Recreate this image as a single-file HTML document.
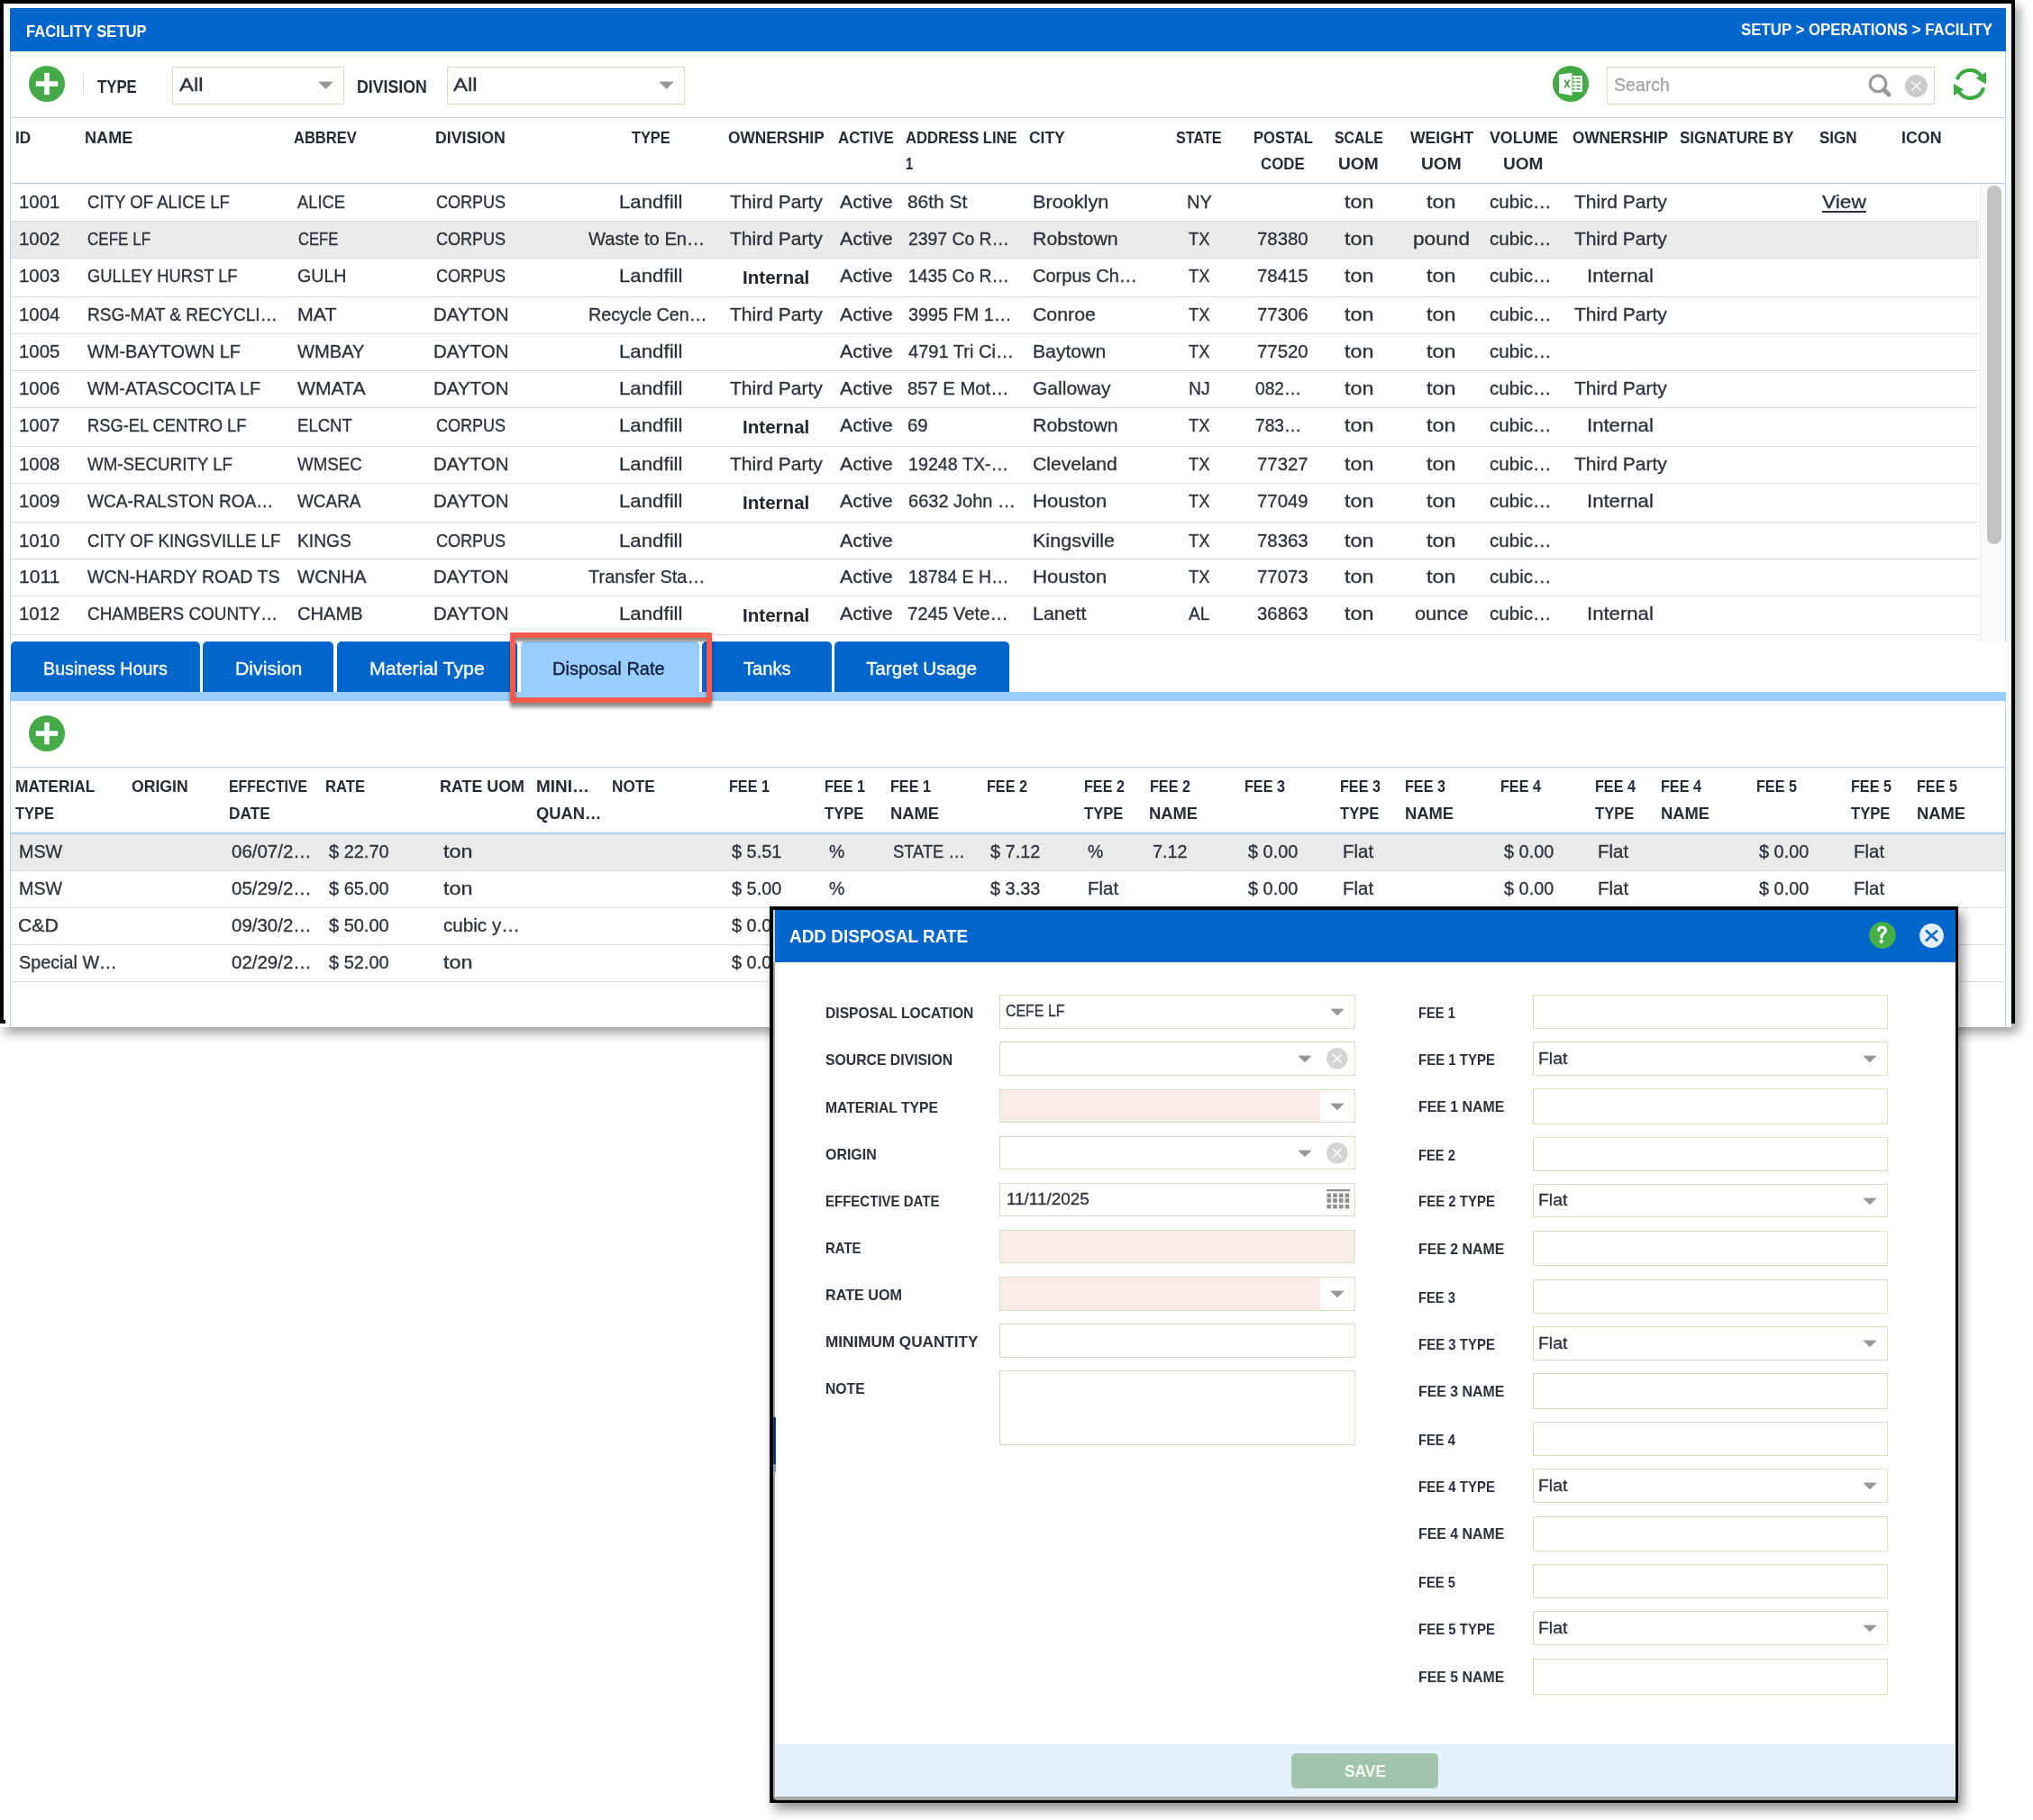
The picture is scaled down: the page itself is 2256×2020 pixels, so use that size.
<!DOCTYPE html>
<html><head><meta charset="utf-8"><style>
html,body{margin:0;padding:0;width:2256px;height:2020px;overflow:hidden;background:#fff;}
body{position:relative;font-family:"Liberation Sans", sans-serif;}
.t{position:absolute;white-space:pre;transform-origin:0 0;}
#root{position:absolute;left:0;top:0;width:2256px;height:2020px;will-change:transform;-webkit-font-smoothing:antialiased;}
</style></head><body><div id="root">
<div style="position:absolute;left:0px;top:0px;width:2232px;height:1140px;background:#fff;box-shadow:5px 6px 12px rgba(0,0,0,0.40);"></div>
<div style="position:absolute;left:2232px;top:0px;width:4px;height:1136px;background:#000;box-shadow:5px 6px 12px rgba(0,0,0,0.40);"></div>
<div style="position:absolute;left:0px;top:0px;width:2236px;height:4px;background:#000;"></div>
<div style="position:absolute;left:0px;top:0px;width:4px;height:1136px;background:#000;"></div>
<div style="position:absolute;left:0px;top:1132px;width:6px;height:4px;background:#000;"></div>
<div style="position:absolute;left:2232px;top:0px;width:4px;height:1136px;background:#000;"></div>
<div style="position:absolute;left:11px;top:9px;width:2215px;height:1131px;background:#fff;border-left:1px solid #b3cbe6;border-right:1px solid #b3cbe6;box-sizing:border-box;"></div>
<div style="position:absolute;left:11px;top:9px;width:2215px;height:48px;background:#0066cc;"></div>
<div class="t" style="left:28.50px;top:25.99px;font-size:18.8px;line-height:18.8px;font-weight:700;color:#fff;transform:scaleX(0.8856);">FACILITY SETUP</div>
<div class="t" style="left:1931.59px;top:23.96px;font-size:18.6px;line-height:18.6px;font-weight:700;color:#fff;transform:scaleX(0.9051);">SETUP &gt; OPERATIONS &gt; FACILITY</div>
<svg style="position:absolute;overflow:visible;left:32px;top:73px" width="40" height="40" viewBox="0 0 40 40"><circle cx="20" cy="20" r="20" fill="#44ab48"/><rect x="7.8" y="17.2" width="24.4" height="5.6" fill="#fff"/><rect x="17.2" y="7.8" width="5.6" height="24.4" fill="#fff"/></svg>
<div style="position:absolute;left:91.5px;top:82px;width:1.0px;height:24px;background:#dcdcdc;"></div>
<div class="t" style="left:107.99px;top:87.31px;font-size:19.6px;line-height:19.6px;font-weight:700;color:#262c33;transform:scaleX(0.8550);">TYPE</div>
<div style="position:absolute;left:191px;top:74px;width:191px;height:42px;border:1px solid #cfe3c3;box-sizing:border-box;background:#fff;"></div>
<div class="t" style="left:198.56px;top:84.29px;font-size:20.8px;line-height:20.8px;font-weight:400;color:#2b3138;transform:scaleX(1.1534);-webkit-text-stroke:0.3px #2b3138;">All</div>
<svg style="position:absolute;overflow:visible;left:353.5px;top:91.3px" width="15" height="7.7" viewBox="0 0 15 7.7"><path d="M0 0 L15 0 L7.5 7.7 Z" fill="#979797" stroke="#979797" stroke-width="0.8" stroke-linejoin="round"/></svg>
<div class="t" style="left:395.94px;top:87.31px;font-size:19.6px;line-height:19.6px;font-weight:700;color:#262c33;transform:scaleX(0.9041);">DIVISION</div>
<div style="position:absolute;left:496px;top:74px;width:264px;height:42px;border:1px solid #cfe3c3;box-sizing:border-box;background:#fff;"></div>
<div class="t" style="left:503.06px;top:84.29px;font-size:20.8px;line-height:20.8px;font-weight:400;color:#2b3138;transform:scaleX(1.1534);-webkit-text-stroke:0.3px #2b3138;">All</div>
<svg style="position:absolute;overflow:visible;left:731.5px;top:91.3px" width="15" height="7.7" viewBox="0 0 15 7.7"><path d="M0 0 L15 0 L7.5 7.7 Z" fill="#979797" stroke="#979797" stroke-width="0.8" stroke-linejoin="round"/></svg>
<svg style="position:absolute;overflow:visible;left:1723px;top:73px" width="40" height="40" viewBox="0 0 40 40"><circle cx="20" cy="20" r="20" fill="#43a945"/><path d="M7 9.8 L21.3 7.7 L21.6 33 L7.2 30.4 Z" fill="#fff"/><rect x="22.2" y="11" width="10.6" height="18" fill="#fff"/><g fill="#43a945"><rect x="22.2" y="13.1" width="2.4" height="1.6"/><rect x="26.3" y="13.1" width="4.4" height="1.6"/><rect x="22.2" y="17.2" width="2.4" height="1.6"/><rect x="26.3" y="17.2" width="4.4" height="1.6"/><rect x="22.2" y="21.2" width="2.4" height="1.6"/><rect x="26.3" y="21.2" width="4.4" height="1.6"/><rect x="22.2" y="25.1" width="2.4" height="1.6"/><rect x="26.3" y="25.1" width="4.4" height="1.6"/></g><path d="M13.1 15.6 L18.7 24.4 M18.7 15.6 L13.1 24.4" stroke="#3e8f43" stroke-width="1.7" fill="none"/></svg>
<div style="position:absolute;left:1783px;top:74px;width:364px;height:42px;border:1px solid #cfe3c3;box-sizing:border-box;background:#fff;"></div>
<div class="t" style="left:1790.83px;top:84.39px;font-size:20.8px;line-height:20.8px;font-weight:400;color:#a3a3a3;transform:scaleX(0.9388);-webkit-text-stroke:0.3px #a3a3a3;">Search</div>
<svg style="position:absolute;overflow:visible;left:2070px;top:80px" width="32" height="32" viewBox="0 0 32 32"><circle cx="14" cy="12.8" r="8.9" stroke="#9a9a9a" stroke-width="3.2" fill="none"/><path d="M20.5 19.5 L26 25" stroke="#9a9a9a" stroke-width="5" stroke-linecap="round"/></svg>
<svg style="position:absolute;overflow:visible;left:2113.6px;top:82.6px" width="24.8" height="24.8" viewBox="0 0 24.8 24.8"><circle cx="12.4" cy="12.4" r="12.4" fill="#cbcbcb"/><path d="M7.192 7.192 L17.608 17.608 M17.608 7.192 L7.192 17.608" stroke="#fff" stroke-width="1.4"/></svg>
<svg style="position:absolute;overflow:visible;left:2164px;top:72px" width="44" height="42" viewBox="0 0 44 42"><path d="M8.5 14.5 A15 15 0 0 1 33 10.5" stroke="#3fa944" stroke-width="4.2" fill="none" stroke-linecap="round"/><path d="M40 8 L40 21.6 L28.6 14.8 Z" fill="#3fa944"/><path d="M36.6 27 A15 15 0 0 1 11 31.5" stroke="#3fa944" stroke-width="4.2" fill="none" stroke-linecap="round"/><path d="M3.9 20.8 L3.9 34.2 L15 27.5 Z" fill="#3fa944"/></svg>
<div style="position:absolute;left:11px;top:130px;width:2215px;height:1px;background:#c3d7ec;"></div>
<div class="t" style="left:16.97px;top:144.16px;font-size:18.6px;line-height:18.6px;font-weight:700;color:#262c33;transform:scaleX(0.9236);">ID</div>
<div class="t" style="left:94.21px;top:144.16px;font-size:18.6px;line-height:18.6px;font-weight:700;color:#262c33;transform:scaleX(0.9730);">NAME</div>
<div class="t" style="left:326.31px;top:144.16px;font-size:18.6px;line-height:18.6px;font-weight:700;color:#262c33;transform:scaleX(0.8874);">ABBREV</div>
<div class="t" style="left:483.16px;top:144.16px;font-size:18.6px;line-height:18.6px;font-weight:700;color:#262c33;transform:scaleX(0.9516);">DIVISION</div>
<div class="t" style="left:701.16px;top:144.16px;font-size:18.6px;line-height:18.6px;font-weight:700;color:#262c33;transform:scaleX(0.8785);">TYPE</div>
<div class="t" style="left:808.16px;top:144.16px;font-size:18.6px;line-height:18.6px;font-weight:700;color:#262c33;transform:scaleX(0.9303);">OWNERSHIP</div>
<div class="t" style="left:930.16px;top:144.16px;font-size:18.6px;line-height:18.6px;font-weight:700;color:#262c33;transform:scaleX(0.9045);">ACTIVE</div>
<div class="t" style="left:1004.70px;top:144.16px;font-size:18.6px;line-height:18.6px;font-weight:700;color:#262c33;transform:scaleX(0.8934);">ADDRESS LINE</div>
<div class="t" style="left:1005.12px;top:173.16px;font-size:18.6px;line-height:18.6px;font-weight:700;color:#262c33;transform:scaleX(0.7902);">1</div>
<div class="t" style="left:1142.35px;top:144.16px;font-size:18.6px;line-height:18.6px;font-weight:700;color:#262c33;transform:scaleX(0.9366);">CITY</div>
<div class="t" style="left:1305.16px;top:144.16px;font-size:18.6px;line-height:18.6px;font-weight:700;color:#262c33;transform:scaleX(0.8709);">STATE</div>
<div class="t" style="left:1390.56px;top:144.16px;font-size:18.6px;line-height:18.6px;font-weight:700;color:#262c33;transform:scaleX(0.8898);">POSTAL</div>
<div class="t" style="left:1398.66px;top:173.16px;font-size:18.6px;line-height:18.6px;font-weight:700;color:#262c33;transform:scaleX(0.9058);">CODE</div>
<div class="t" style="left:1481.01px;top:144.16px;font-size:18.6px;line-height:18.6px;font-weight:700;color:#262c33;transform:scaleX(0.8563);">SCALE</div>
<div class="t" style="left:1485.26px;top:173.16px;font-size:18.6px;line-height:18.6px;font-weight:700;color:#262c33;transform:scaleX(1.0296);">UOM</div>
<div class="t" style="left:1564.51px;top:144.16px;font-size:18.6px;line-height:18.6px;font-weight:700;color:#262c33;transform:scaleX(0.9462);">WEIGHT</div>
<div class="t" style="left:1577.26px;top:173.16px;font-size:18.6px;line-height:18.6px;font-weight:700;color:#262c33;transform:scaleX(1.0296);">UOM</div>
<div class="t" style="left:1652.56px;top:144.16px;font-size:18.6px;line-height:18.6px;font-weight:700;color:#262c33;transform:scaleX(0.9563);">VOLUME</div>
<div class="t" style="left:1668.16px;top:173.16px;font-size:18.6px;line-height:18.6px;font-weight:700;color:#262c33;transform:scaleX(1.0250);">UOM</div>
<div class="t" style="left:1744.96px;top:144.16px;font-size:18.6px;line-height:18.6px;font-weight:700;color:#262c33;transform:scaleX(0.9250);">OWNERSHIP</div>
<div class="t" style="left:1864.48px;top:144.16px;font-size:18.6px;line-height:18.6px;font-weight:700;color:#262c33;transform:scaleX(0.9105);">SIGNATURE BY</div>
<div class="t" style="left:2019.38px;top:144.16px;font-size:18.6px;line-height:18.6px;font-weight:700;color:#262c33;transform:scaleX(0.9165);">SIGN</div>
<div class="t" style="left:2109.93px;top:144.16px;font-size:18.6px;line-height:18.6px;font-weight:700;color:#262c33;transform:scaleX(0.9611);">ICON</div>
<div style="position:absolute;left:11px;top:203px;width:2215px;height:1.4000000000000057px;background:#b0cbe5;"></div>
<div style="position:absolute;left:12px;top:245.3px;width:2184px;height:40.89999999999998px;background:#eaeaea;"></div>
<div style="position:absolute;left:12px;top:244.8px;width:2184px;height:1.0px;background:#dcdcdc;"></div>
<div style="position:absolute;left:12px;top:285.7px;width:2184px;height:1.0px;background:#dcdcdc;"></div>
<div style="position:absolute;left:12px;top:328.8px;width:2184px;height:1.0px;background:#dcdcdc;"></div>
<div style="position:absolute;left:12px;top:369.7px;width:2184px;height:1.0px;background:#dcdcdc;"></div>
<div style="position:absolute;left:12px;top:410.6px;width:2184px;height:1.0px;background:#dcdcdc;"></div>
<div style="position:absolute;left:12px;top:451.5px;width:2184px;height:1.0px;background:#dcdcdc;"></div>
<div style="position:absolute;left:12px;top:494.6px;width:2184px;height:1.0px;background:#dcdcdc;"></div>
<div style="position:absolute;left:12px;top:535.9px;width:2184px;height:1.0px;background:#dcdcdc;"></div>
<div style="position:absolute;left:12px;top:579.2px;width:2184px;height:1.0px;background:#dcdcdc;"></div>
<div style="position:absolute;left:12px;top:619.9px;width:2184px;height:1.0px;background:#dcdcdc;"></div>
<div style="position:absolute;left:12px;top:660.7px;width:2184px;height:1.0px;background:#dcdcdc;"></div>
<div style="position:absolute;left:12px;top:703.5px;width:2184px;height:1.0px;background:#dcdcdc;"></div>
<div style="position:absolute;left:2196.5px;top:204.5px;width:1.5px;height:507.5px;background:#e8e8e8;"></div>
<div style="position:absolute;left:2198px;top:204.5px;width:27px;height:507.5px;background:#fafafa;"></div>
<div style="position:absolute;left:2205px;top:206px;width:16px;height:398px;background:#c2c2c2;border-radius:8px;"></div>
<div class="t" style="left:21.38px;top:214.29px;font-size:20.8px;line-height:20.8px;font-weight:400;color:#2b3138;transform:scaleX(0.9807);-webkit-text-stroke:0.3px #2b3138;">1001</div>
<div class="t" style="left:97.28px;top:214.29px;font-size:20.8px;line-height:20.8px;font-weight:400;color:#2b3138;transform:scaleX(0.8947);-webkit-text-stroke:0.3px #2b3138;">CITY OF ALICE LF</div>
<div class="t" style="left:330.40px;top:214.29px;font-size:20.8px;line-height:20.8px;font-weight:400;color:#2b3138;transform:scaleX(0.8801);-webkit-text-stroke:0.3px #2b3138;">ALICE</div>
<div class="t" style="left:483.73px;top:214.29px;font-size:20.8px;line-height:20.8px;font-weight:400;color:#2b3138;transform:scaleX(0.8670);-webkit-text-stroke:0.3px #2b3138;">CORPUS</div>
<div class="t" style="left:687.26px;top:214.29px;font-size:20.8px;line-height:20.8px;font-weight:400;color:#2b3138;transform:scaleX(1.0695);-webkit-text-stroke:0.3px #2b3138;">Landfill</div>
<div class="t" style="left:810.15px;top:214.29px;font-size:20.8px;line-height:20.8px;font-weight:400;color:#2b3138;transform:scaleX(1.0117);-webkit-text-stroke:0.3px #2b3138;">Third Party</div>
<div class="t" style="left:932.07px;top:214.29px;font-size:20.8px;line-height:20.8px;font-weight:400;color:#2b3138;transform:scaleX(1.0355);-webkit-text-stroke:0.3px #2b3138;">Active</div>
<div class="t" style="left:1007.45px;top:214.29px;font-size:20.8px;line-height:20.8px;font-weight:400;color:#2b3138;transform:scaleX(1.0042);-webkit-text-stroke:0.3px #2b3138;">86th St</div>
<div class="t" style="left:1145.70px;top:214.29px;font-size:20.8px;line-height:20.8px;font-weight:400;color:#2b3138;transform:scaleX(1.0421);-webkit-text-stroke:0.3px #2b3138;">Brooklyn</div>
<div class="t" style="left:1316.50px;top:214.29px;font-size:20.8px;line-height:20.8px;font-weight:400;color:#2b3138;transform:scaleX(0.9689);-webkit-text-stroke:0.3px #2b3138;">NY</div>
<div class="t" style="left:1491.77px;top:214.29px;font-size:20.8px;line-height:20.8px;font-weight:400;color:#2b3138;transform:scaleX(1.1226);-webkit-text-stroke:0.3px #2b3138;">ton</div>
<div class="t" style="left:1583.27px;top:214.29px;font-size:20.8px;line-height:20.8px;font-weight:400;color:#2b3138;transform:scaleX(1.1226);-webkit-text-stroke:0.3px #2b3138;">ton</div>
<div class="t" style="left:1653.27px;top:214.29px;font-size:20.8px;line-height:20.8px;font-weight:400;color:#2b3138;transform:scaleX(0.9893);-webkit-text-stroke:0.3px #2b3138;">cubic…</div>
<div class="t" style="left:1746.55px;top:214.29px;font-size:20.8px;line-height:20.8px;font-weight:400;color:#2b3138;transform:scaleX(1.0117);-webkit-text-stroke:0.3px #2b3138;">Third Party</div>
<div class="t" style="left:2021.64px;top:214.29px;font-size:20.8px;line-height:20.8px;font-weight:400;color:#2b3138;transform:scaleX(1.0933);-webkit-text-stroke:0.3px #2b3138;text-decoration:underline;text-underline-offset:3px;">View</div>
<div class="t" style="left:21.38px;top:255.19px;font-size:20.8px;line-height:20.8px;font-weight:400;color:#2b3138;transform:scaleX(0.9807);-webkit-text-stroke:0.3px #2b3138;">1002</div>
<div class="t" style="left:97.38px;top:255.19px;font-size:20.8px;line-height:20.8px;font-weight:400;color:#2b3138;transform:scaleX(0.8193);-webkit-text-stroke:0.3px #2b3138;">CEFE LF</div>
<div class="t" style="left:330.50px;top:255.19px;font-size:20.8px;line-height:20.8px;font-weight:400;color:#2b3138;transform:scaleX(0.7979);-webkit-text-stroke:0.3px #2b3138;">CEFE</div>
<div class="t" style="left:483.73px;top:255.19px;font-size:20.8px;line-height:20.8px;font-weight:400;color:#2b3138;transform:scaleX(0.8670);-webkit-text-stroke:0.3px #2b3138;">CORPUS</div>
<div class="t" style="left:653.29px;top:255.19px;font-size:20.8px;line-height:20.8px;font-weight:400;color:#2b3138;transform:scaleX(0.9696);-webkit-text-stroke:0.3px #2b3138;">Waste to En…</div>
<div class="t" style="left:810.15px;top:255.19px;font-size:20.8px;line-height:20.8px;font-weight:400;color:#2b3138;transform:scaleX(1.0117);-webkit-text-stroke:0.3px #2b3138;">Third Party</div>
<div class="t" style="left:932.07px;top:255.19px;font-size:20.8px;line-height:20.8px;font-weight:400;color:#2b3138;transform:scaleX(1.0355);-webkit-text-stroke:0.3px #2b3138;">Active</div>
<div class="t" style="left:1007.54px;top:255.19px;font-size:20.8px;line-height:20.8px;font-weight:400;color:#2b3138;transform:scaleX(0.9305);-webkit-text-stroke:0.3px #2b3138;">2397 Co R…</div>
<div class="t" style="left:1145.72px;top:255.19px;font-size:20.8px;line-height:20.8px;font-weight:400;color:#2b3138;transform:scaleX(1.0238);-webkit-text-stroke:0.3px #2b3138;">Robstown</div>
<div class="t" style="left:1318.75px;top:255.19px;font-size:20.8px;line-height:20.8px;font-weight:400;color:#2b3138;transform:scaleX(0.8843);-webkit-text-stroke:0.3px #2b3138;">TX</div>
<div class="t" style="left:1394.64px;top:255.19px;font-size:20.8px;line-height:20.8px;font-weight:400;color:#2b3138;transform:scaleX(0.9805);-webkit-text-stroke:0.3px #2b3138;">78380</div>
<div class="t" style="left:1491.77px;top:255.19px;font-size:20.8px;line-height:20.8px;font-weight:400;color:#2b3138;transform:scaleX(1.1226);-webkit-text-stroke:0.3px #2b3138;">ton</div>
<div class="t" style="left:1567.97px;top:255.19px;font-size:20.8px;line-height:20.8px;font-weight:400;color:#2b3138;transform:scaleX(1.0903);-webkit-text-stroke:0.3px #2b3138;">pound</div>
<div class="t" style="left:1653.27px;top:255.19px;font-size:20.8px;line-height:20.8px;font-weight:400;color:#2b3138;transform:scaleX(0.9893);-webkit-text-stroke:0.3px #2b3138;">cubic…</div>
<div class="t" style="left:1746.55px;top:255.19px;font-size:20.8px;line-height:20.8px;font-weight:400;color:#2b3138;transform:scaleX(1.0117);-webkit-text-stroke:0.3px #2b3138;">Third Party</div>
<div class="t" style="left:21.38px;top:296.09px;font-size:20.8px;line-height:20.8px;font-weight:400;color:#2b3138;transform:scaleX(0.9807);-webkit-text-stroke:0.3px #2b3138;">1003</div>
<div class="t" style="left:97.30px;top:296.09px;font-size:20.8px;line-height:20.8px;font-weight:400;color:#2b3138;transform:scaleX(0.8823);-webkit-text-stroke:0.3px #2b3138;">GULLEY HURST LF</div>
<div class="t" style="left:330.32px;top:296.09px;font-size:20.8px;line-height:20.8px;font-weight:400;color:#2b3138;transform:scaleX(0.9426);-webkit-text-stroke:0.3px #2b3138;">GULH</div>
<div class="t" style="left:483.73px;top:296.09px;font-size:20.8px;line-height:20.8px;font-weight:400;color:#2b3138;transform:scaleX(0.8670);-webkit-text-stroke:0.3px #2b3138;">CORPUS</div>
<div class="t" style="left:687.26px;top:296.09px;font-size:20.8px;line-height:20.8px;font-weight:400;color:#2b3138;transform:scaleX(1.0695);-webkit-text-stroke:0.3px #2b3138;">Landfill</div>
<div class="t" style="left:824.15px;top:298.27px;font-size:20.0px;line-height:20.0px;font-weight:700;color:#23282e;transform:scaleX(1.0284);">Internal</div>
<div class="t" style="left:932.07px;top:296.09px;font-size:20.8px;line-height:20.8px;font-weight:400;color:#2b3138;transform:scaleX(1.0355);-webkit-text-stroke:0.3px #2b3138;">Active</div>
<div class="t" style="left:1007.54px;top:296.09px;font-size:20.8px;line-height:20.8px;font-weight:400;color:#2b3138;transform:scaleX(0.9305);-webkit-text-stroke:0.3px #2b3138;">1435 Co R…</div>
<div class="t" style="left:1145.80px;top:296.09px;font-size:20.8px;line-height:20.8px;font-weight:400;color:#2b3138;transform:scaleX(0.9637);-webkit-text-stroke:0.3px #2b3138;">Corpus Ch…</div>
<div class="t" style="left:1318.75px;top:296.09px;font-size:20.8px;line-height:20.8px;font-weight:400;color:#2b3138;transform:scaleX(0.8843);-webkit-text-stroke:0.3px #2b3138;">TX</div>
<div class="t" style="left:1394.64px;top:296.09px;font-size:20.8px;line-height:20.8px;font-weight:400;color:#2b3138;transform:scaleX(0.9805);-webkit-text-stroke:0.3px #2b3138;">78415</div>
<div class="t" style="left:1491.77px;top:296.09px;font-size:20.8px;line-height:20.8px;font-weight:400;color:#2b3138;transform:scaleX(1.1226);-webkit-text-stroke:0.3px #2b3138;">ton</div>
<div class="t" style="left:1583.27px;top:296.09px;font-size:20.8px;line-height:20.8px;font-weight:400;color:#2b3138;transform:scaleX(1.1226);-webkit-text-stroke:0.3px #2b3138;">ton</div>
<div class="t" style="left:1653.27px;top:296.09px;font-size:20.8px;line-height:20.8px;font-weight:400;color:#2b3138;transform:scaleX(0.9893);-webkit-text-stroke:0.3px #2b3138;">cubic…</div>
<div class="t" style="left:1761.09px;top:296.09px;font-size:20.8px;line-height:20.8px;font-weight:400;color:#2b3138;transform:scaleX(1.0639);-webkit-text-stroke:0.3px #2b3138;">Internal</div>
<div class="t" style="left:21.38px;top:339.19px;font-size:20.8px;line-height:20.8px;font-weight:400;color:#2b3138;transform:scaleX(0.9807);-webkit-text-stroke:0.3px #2b3138;">1004</div>
<div class="t" style="left:97.26px;top:339.19px;font-size:20.8px;line-height:20.8px;font-weight:400;color:#2b3138;transform:scaleX(0.9146);-webkit-text-stroke:0.3px #2b3138;">RSG-MAT &amp; RECYCLI…</div>
<div class="t" style="left:330.22px;top:339.19px;font-size:20.8px;line-height:20.8px;font-weight:400;color:#2b3138;transform:scaleX(1.0278);-webkit-text-stroke:0.3px #2b3138;">MAT</div>
<div class="t" style="left:480.57px;top:339.19px;font-size:20.8px;line-height:20.8px;font-weight:400;color:#2b3138;transform:scaleX(0.9848);-webkit-text-stroke:0.3px #2b3138;">DAYTON</div>
<div class="t" style="left:653.32px;top:339.19px;font-size:20.8px;line-height:20.8px;font-weight:400;color:#2b3138;transform:scaleX(0.9481);-webkit-text-stroke:0.3px #2b3138;">Recycle Cen…</div>
<div class="t" style="left:810.15px;top:339.19px;font-size:20.8px;line-height:20.8px;font-weight:400;color:#2b3138;transform:scaleX(1.0117);-webkit-text-stroke:0.3px #2b3138;">Third Party</div>
<div class="t" style="left:932.07px;top:339.19px;font-size:20.8px;line-height:20.8px;font-weight:400;color:#2b3138;transform:scaleX(1.0355);-webkit-text-stroke:0.3px #2b3138;">Active</div>
<div class="t" style="left:1007.51px;top:339.19px;font-size:20.8px;line-height:20.8px;font-weight:400;color:#2b3138;transform:scaleX(0.9526);-webkit-text-stroke:0.3px #2b3138;">3995 FM 1…</div>
<div class="t" style="left:1145.72px;top:339.19px;font-size:20.8px;line-height:20.8px;font-weight:400;color:#2b3138;transform:scaleX(1.0234);-webkit-text-stroke:0.3px #2b3138;">Conroe</div>
<div class="t" style="left:1318.75px;top:339.19px;font-size:20.8px;line-height:20.8px;font-weight:400;color:#2b3138;transform:scaleX(0.8843);-webkit-text-stroke:0.3px #2b3138;">TX</div>
<div class="t" style="left:1394.64px;top:339.19px;font-size:20.8px;line-height:20.8px;font-weight:400;color:#2b3138;transform:scaleX(0.9805);-webkit-text-stroke:0.3px #2b3138;">77306</div>
<div class="t" style="left:1491.77px;top:339.19px;font-size:20.8px;line-height:20.8px;font-weight:400;color:#2b3138;transform:scaleX(1.1226);-webkit-text-stroke:0.3px #2b3138;">ton</div>
<div class="t" style="left:1583.27px;top:339.19px;font-size:20.8px;line-height:20.8px;font-weight:400;color:#2b3138;transform:scaleX(1.1226);-webkit-text-stroke:0.3px #2b3138;">ton</div>
<div class="t" style="left:1653.27px;top:339.19px;font-size:20.8px;line-height:20.8px;font-weight:400;color:#2b3138;transform:scaleX(0.9893);-webkit-text-stroke:0.3px #2b3138;">cubic…</div>
<div class="t" style="left:1746.55px;top:339.19px;font-size:20.8px;line-height:20.8px;font-weight:400;color:#2b3138;transform:scaleX(1.0117);-webkit-text-stroke:0.3px #2b3138;">Third Party</div>
<div class="t" style="left:21.38px;top:380.09px;font-size:20.8px;line-height:20.8px;font-weight:400;color:#2b3138;transform:scaleX(0.9807);-webkit-text-stroke:0.3px #2b3138;">1005</div>
<div class="t" style="left:97.20px;top:380.09px;font-size:20.8px;line-height:20.8px;font-weight:400;color:#2b3138;transform:scaleX(0.9599);-webkit-text-stroke:0.3px #2b3138;">WM-BAYTOWN LF</div>
<div class="t" style="left:330.29px;top:380.09px;font-size:20.8px;line-height:20.8px;font-weight:400;color:#2b3138;transform:scaleX(0.9671);-webkit-text-stroke:0.3px #2b3138;">WMBAY</div>
<div class="t" style="left:480.57px;top:380.09px;font-size:20.8px;line-height:20.8px;font-weight:400;color:#2b3138;transform:scaleX(0.9848);-webkit-text-stroke:0.3px #2b3138;">DAYTON</div>
<div class="t" style="left:687.26px;top:380.09px;font-size:20.8px;line-height:20.8px;font-weight:400;color:#2b3138;transform:scaleX(1.0695);-webkit-text-stroke:0.3px #2b3138;">Landfill</div>
<div class="t" style="left:932.07px;top:380.09px;font-size:20.8px;line-height:20.8px;font-weight:400;color:#2b3138;transform:scaleX(1.0355);-webkit-text-stroke:0.3px #2b3138;">Active</div>
<div class="t" style="left:1007.50px;top:380.09px;font-size:20.8px;line-height:20.8px;font-weight:400;color:#2b3138;transform:scaleX(0.9640);-webkit-text-stroke:0.3px #2b3138;">4791 Tri Ci…</div>
<div class="t" style="left:1145.73px;top:380.09px;font-size:20.8px;line-height:20.8px;font-weight:400;color:#2b3138;transform:scaleX(1.0181);-webkit-text-stroke:0.3px #2b3138;">Baytown</div>
<div class="t" style="left:1318.75px;top:380.09px;font-size:20.8px;line-height:20.8px;font-weight:400;color:#2b3138;transform:scaleX(0.8843);-webkit-text-stroke:0.3px #2b3138;">TX</div>
<div class="t" style="left:1394.64px;top:380.09px;font-size:20.8px;line-height:20.8px;font-weight:400;color:#2b3138;transform:scaleX(0.9805);-webkit-text-stroke:0.3px #2b3138;">77520</div>
<div class="t" style="left:1491.77px;top:380.09px;font-size:20.8px;line-height:20.8px;font-weight:400;color:#2b3138;transform:scaleX(1.1226);-webkit-text-stroke:0.3px #2b3138;">ton</div>
<div class="t" style="left:1583.27px;top:380.09px;font-size:20.8px;line-height:20.8px;font-weight:400;color:#2b3138;transform:scaleX(1.1226);-webkit-text-stroke:0.3px #2b3138;">ton</div>
<div class="t" style="left:1653.27px;top:380.09px;font-size:20.8px;line-height:20.8px;font-weight:400;color:#2b3138;transform:scaleX(0.9893);-webkit-text-stroke:0.3px #2b3138;">cubic…</div>
<div class="t" style="left:21.38px;top:420.99px;font-size:20.8px;line-height:20.8px;font-weight:400;color:#2b3138;transform:scaleX(0.9807);-webkit-text-stroke:0.3px #2b3138;">1006</div>
<div class="t" style="left:97.21px;top:420.99px;font-size:20.8px;line-height:20.8px;font-weight:400;color:#2b3138;transform:scaleX(0.9561);-webkit-text-stroke:0.3px #2b3138;">WM-ATASCOCITA LF</div>
<div class="t" style="left:330.23px;top:420.99px;font-size:20.8px;line-height:20.8px;font-weight:400;color:#2b3138;transform:scaleX(1.0157);-webkit-text-stroke:0.3px #2b3138;">WMATA</div>
<div class="t" style="left:480.57px;top:420.99px;font-size:20.8px;line-height:20.8px;font-weight:400;color:#2b3138;transform:scaleX(0.9848);-webkit-text-stroke:0.3px #2b3138;">DAYTON</div>
<div class="t" style="left:687.26px;top:420.99px;font-size:20.8px;line-height:20.8px;font-weight:400;color:#2b3138;transform:scaleX(1.0695);-webkit-text-stroke:0.3px #2b3138;">Landfill</div>
<div class="t" style="left:810.15px;top:420.99px;font-size:20.8px;line-height:20.8px;font-weight:400;color:#2b3138;transform:scaleX(1.0117);-webkit-text-stroke:0.3px #2b3138;">Third Party</div>
<div class="t" style="left:932.07px;top:420.99px;font-size:20.8px;line-height:20.8px;font-weight:400;color:#2b3138;transform:scaleX(1.0355);-webkit-text-stroke:0.3px #2b3138;">Active</div>
<div class="t" style="left:1007.49px;top:420.99px;font-size:20.8px;line-height:20.8px;font-weight:400;color:#2b3138;transform:scaleX(0.9724);-webkit-text-stroke:0.3px #2b3138;">857 E Mot…</div>
<div class="t" style="left:1145.74px;top:420.99px;font-size:20.8px;line-height:20.8px;font-weight:400;color:#2b3138;transform:scaleX(1.0117);-webkit-text-stroke:0.3px #2b3138;">Galloway</div>
<div class="t" style="left:1318.62px;top:420.99px;font-size:20.8px;line-height:20.8px;font-weight:400;color:#2b3138;transform:scaleX(0.9343);-webkit-text-stroke:0.3px #2b3138;">NJ</div>
<div class="t" style="left:1393.25px;top:420.99px;font-size:20.8px;line-height:20.8px;font-weight:400;color:#2b3138;transform:scaleX(0.9211);-webkit-text-stroke:0.3px #2b3138;">082…</div>
<div class="t" style="left:1491.77px;top:420.99px;font-size:20.8px;line-height:20.8px;font-weight:400;color:#2b3138;transform:scaleX(1.1226);-webkit-text-stroke:0.3px #2b3138;">ton</div>
<div class="t" style="left:1583.27px;top:420.99px;font-size:20.8px;line-height:20.8px;font-weight:400;color:#2b3138;transform:scaleX(1.1226);-webkit-text-stroke:0.3px #2b3138;">ton</div>
<div class="t" style="left:1653.27px;top:420.99px;font-size:20.8px;line-height:20.8px;font-weight:400;color:#2b3138;transform:scaleX(0.9893);-webkit-text-stroke:0.3px #2b3138;">cubic…</div>
<div class="t" style="left:1746.55px;top:420.99px;font-size:20.8px;line-height:20.8px;font-weight:400;color:#2b3138;transform:scaleX(1.0117);-webkit-text-stroke:0.3px #2b3138;">Third Party</div>
<div class="t" style="left:21.38px;top:461.89px;font-size:20.8px;line-height:20.8px;font-weight:400;color:#2b3138;transform:scaleX(0.9807);-webkit-text-stroke:0.3px #2b3138;">1007</div>
<div class="t" style="left:97.30px;top:461.89px;font-size:20.8px;line-height:20.8px;font-weight:400;color:#2b3138;transform:scaleX(0.8805);-webkit-text-stroke:0.3px #2b3138;">RSG-EL CENTRO LF</div>
<div class="t" style="left:330.39px;top:461.89px;font-size:20.8px;line-height:20.8px;font-weight:400;color:#2b3138;transform:scaleX(0.8924);-webkit-text-stroke:0.3px #2b3138;">ELCNT</div>
<div class="t" style="left:483.73px;top:461.89px;font-size:20.8px;line-height:20.8px;font-weight:400;color:#2b3138;transform:scaleX(0.8670);-webkit-text-stroke:0.3px #2b3138;">CORPUS</div>
<div class="t" style="left:687.26px;top:461.89px;font-size:20.8px;line-height:20.8px;font-weight:400;color:#2b3138;transform:scaleX(1.0695);-webkit-text-stroke:0.3px #2b3138;">Landfill</div>
<div class="t" style="left:824.15px;top:464.07px;font-size:20.0px;line-height:20.0px;font-weight:700;color:#23282e;transform:scaleX(1.0284);">Internal</div>
<div class="t" style="left:932.07px;top:461.89px;font-size:20.8px;line-height:20.8px;font-weight:400;color:#2b3138;transform:scaleX(1.0355);-webkit-text-stroke:0.3px #2b3138;">Active</div>
<div class="t" style="left:1007.48px;top:461.89px;font-size:20.8px;line-height:20.8px;font-weight:400;color:#2b3138;transform:scaleX(0.9804);-webkit-text-stroke:0.3px #2b3138;">69</div>
<div class="t" style="left:1145.72px;top:461.89px;font-size:20.8px;line-height:20.8px;font-weight:400;color:#2b3138;transform:scaleX(1.0238);-webkit-text-stroke:0.3px #2b3138;">Robstown</div>
<div class="t" style="left:1318.75px;top:461.89px;font-size:20.8px;line-height:20.8px;font-weight:400;color:#2b3138;transform:scaleX(0.8843);-webkit-text-stroke:0.3px #2b3138;">TX</div>
<div class="t" style="left:1393.25px;top:461.89px;font-size:20.8px;line-height:20.8px;font-weight:400;color:#2b3138;transform:scaleX(0.9211);-webkit-text-stroke:0.3px #2b3138;">783…</div>
<div class="t" style="left:1491.77px;top:461.89px;font-size:20.8px;line-height:20.8px;font-weight:400;color:#2b3138;transform:scaleX(1.1226);-webkit-text-stroke:0.3px #2b3138;">ton</div>
<div class="t" style="left:1583.27px;top:461.89px;font-size:20.8px;line-height:20.8px;font-weight:400;color:#2b3138;transform:scaleX(1.1226);-webkit-text-stroke:0.3px #2b3138;">ton</div>
<div class="t" style="left:1653.27px;top:461.89px;font-size:20.8px;line-height:20.8px;font-weight:400;color:#2b3138;transform:scaleX(0.9893);-webkit-text-stroke:0.3px #2b3138;">cubic…</div>
<div class="t" style="left:1761.09px;top:461.89px;font-size:20.8px;line-height:20.8px;font-weight:400;color:#2b3138;transform:scaleX(1.0639);-webkit-text-stroke:0.3px #2b3138;">Internal</div>
<div class="t" style="left:21.38px;top:504.99px;font-size:20.8px;line-height:20.8px;font-weight:400;color:#2b3138;transform:scaleX(0.9807);-webkit-text-stroke:0.3px #2b3138;">1008</div>
<div class="t" style="left:97.28px;top:504.99px;font-size:20.8px;line-height:20.8px;font-weight:400;color:#2b3138;transform:scaleX(0.9010);-webkit-text-stroke:0.3px #2b3138;">WM-SECURITY LF</div>
<div class="t" style="left:330.38px;top:504.99px;font-size:20.8px;line-height:20.8px;font-weight:400;color:#2b3138;transform:scaleX(0.8987);-webkit-text-stroke:0.3px #2b3138;">WMSEC</div>
<div class="t" style="left:480.57px;top:504.99px;font-size:20.8px;line-height:20.8px;font-weight:400;color:#2b3138;transform:scaleX(0.9848);-webkit-text-stroke:0.3px #2b3138;">DAYTON</div>
<div class="t" style="left:687.26px;top:504.99px;font-size:20.8px;line-height:20.8px;font-weight:400;color:#2b3138;transform:scaleX(1.0695);-webkit-text-stroke:0.3px #2b3138;">Landfill</div>
<div class="t" style="left:810.15px;top:504.99px;font-size:20.8px;line-height:20.8px;font-weight:400;color:#2b3138;transform:scaleX(1.0117);-webkit-text-stroke:0.3px #2b3138;">Third Party</div>
<div class="t" style="left:932.07px;top:504.99px;font-size:20.8px;line-height:20.8px;font-weight:400;color:#2b3138;transform:scaleX(1.0355);-webkit-text-stroke:0.3px #2b3138;">Active</div>
<div class="t" style="left:1007.52px;top:504.99px;font-size:20.8px;line-height:20.8px;font-weight:400;color:#2b3138;transform:scaleX(0.9470);-webkit-text-stroke:0.3px #2b3138;">19248 TX-…</div>
<div class="t" style="left:1145.73px;top:504.99px;font-size:20.8px;line-height:20.8px;font-weight:400;color:#2b3138;transform:scaleX(1.0137);-webkit-text-stroke:0.3px #2b3138;">Cleveland</div>
<div class="t" style="left:1318.75px;top:504.99px;font-size:20.8px;line-height:20.8px;font-weight:400;color:#2b3138;transform:scaleX(0.8843);-webkit-text-stroke:0.3px #2b3138;">TX</div>
<div class="t" style="left:1394.64px;top:504.99px;font-size:20.8px;line-height:20.8px;font-weight:400;color:#2b3138;transform:scaleX(0.9805);-webkit-text-stroke:0.3px #2b3138;">77327</div>
<div class="t" style="left:1491.77px;top:504.99px;font-size:20.8px;line-height:20.8px;font-weight:400;color:#2b3138;transform:scaleX(1.1226);-webkit-text-stroke:0.3px #2b3138;">ton</div>
<div class="t" style="left:1583.27px;top:504.99px;font-size:20.8px;line-height:20.8px;font-weight:400;color:#2b3138;transform:scaleX(1.1226);-webkit-text-stroke:0.3px #2b3138;">ton</div>
<div class="t" style="left:1653.27px;top:504.99px;font-size:20.8px;line-height:20.8px;font-weight:400;color:#2b3138;transform:scaleX(0.9893);-webkit-text-stroke:0.3px #2b3138;">cubic…</div>
<div class="t" style="left:1746.55px;top:504.99px;font-size:20.8px;line-height:20.8px;font-weight:400;color:#2b3138;transform:scaleX(1.0117);-webkit-text-stroke:0.3px #2b3138;">Third Party</div>
<div class="t" style="left:21.38px;top:546.29px;font-size:20.8px;line-height:20.8px;font-weight:400;color:#2b3138;transform:scaleX(0.9807);-webkit-text-stroke:0.3px #2b3138;">1009</div>
<div class="t" style="left:97.26px;top:546.29px;font-size:20.8px;line-height:20.8px;font-weight:400;color:#2b3138;transform:scaleX(0.9173);-webkit-text-stroke:0.3px #2b3138;">WCA-RALSTON ROA…</div>
<div class="t" style="left:330.36px;top:546.29px;font-size:20.8px;line-height:20.8px;font-weight:400;color:#2b3138;transform:scaleX(0.9099);-webkit-text-stroke:0.3px #2b3138;">WCARA</div>
<div class="t" style="left:480.57px;top:546.29px;font-size:20.8px;line-height:20.8px;font-weight:400;color:#2b3138;transform:scaleX(0.9848);-webkit-text-stroke:0.3px #2b3138;">DAYTON</div>
<div class="t" style="left:687.26px;top:546.29px;font-size:20.8px;line-height:20.8px;font-weight:400;color:#2b3138;transform:scaleX(1.0695);-webkit-text-stroke:0.3px #2b3138;">Landfill</div>
<div class="t" style="left:824.15px;top:548.47px;font-size:20.0px;line-height:20.0px;font-weight:700;color:#23282e;transform:scaleX(1.0284);">Internal</div>
<div class="t" style="left:932.07px;top:546.29px;font-size:20.8px;line-height:20.8px;font-weight:400;color:#2b3138;transform:scaleX(1.0355);-webkit-text-stroke:0.3px #2b3138;">Active</div>
<div class="t" style="left:1007.50px;top:546.29px;font-size:20.8px;line-height:20.8px;font-weight:400;color:#2b3138;transform:scaleX(0.9624);-webkit-text-stroke:0.3px #2b3138;">6632 John …</div>
<div class="t" style="left:1145.68px;top:546.29px;font-size:20.8px;line-height:20.8px;font-weight:400;color:#2b3138;transform:scaleX(1.0608);-webkit-text-stroke:0.3px #2b3138;">Houston</div>
<div class="t" style="left:1318.75px;top:546.29px;font-size:20.8px;line-height:20.8px;font-weight:400;color:#2b3138;transform:scaleX(0.8843);-webkit-text-stroke:0.3px #2b3138;">TX</div>
<div class="t" style="left:1394.64px;top:546.29px;font-size:20.8px;line-height:20.8px;font-weight:400;color:#2b3138;transform:scaleX(0.9805);-webkit-text-stroke:0.3px #2b3138;">77049</div>
<div class="t" style="left:1491.77px;top:546.29px;font-size:20.8px;line-height:20.8px;font-weight:400;color:#2b3138;transform:scaleX(1.1226);-webkit-text-stroke:0.3px #2b3138;">ton</div>
<div class="t" style="left:1583.27px;top:546.29px;font-size:20.8px;line-height:20.8px;font-weight:400;color:#2b3138;transform:scaleX(1.1226);-webkit-text-stroke:0.3px #2b3138;">ton</div>
<div class="t" style="left:1653.27px;top:546.29px;font-size:20.8px;line-height:20.8px;font-weight:400;color:#2b3138;transform:scaleX(0.9893);-webkit-text-stroke:0.3px #2b3138;">cubic…</div>
<div class="t" style="left:1761.09px;top:546.29px;font-size:20.8px;line-height:20.8px;font-weight:400;color:#2b3138;transform:scaleX(1.0639);-webkit-text-stroke:0.3px #2b3138;">Internal</div>
<div class="t" style="left:21.38px;top:589.59px;font-size:20.8px;line-height:20.8px;font-weight:400;color:#2b3138;transform:scaleX(0.9807);-webkit-text-stroke:0.3px #2b3138;">1010</div>
<div class="t" style="left:97.28px;top:589.59px;font-size:20.8px;line-height:20.8px;font-weight:400;color:#2b3138;transform:scaleX(0.8975);-webkit-text-stroke:0.3px #2b3138;">CITY OF KINGSVILLE LF</div>
<div class="t" style="left:330.35px;top:589.59px;font-size:20.8px;line-height:20.8px;font-weight:400;color:#2b3138;transform:scaleX(0.9242);-webkit-text-stroke:0.3px #2b3138;">KINGS</div>
<div class="t" style="left:483.73px;top:589.59px;font-size:20.8px;line-height:20.8px;font-weight:400;color:#2b3138;transform:scaleX(0.8670);-webkit-text-stroke:0.3px #2b3138;">CORPUS</div>
<div class="t" style="left:687.26px;top:589.59px;font-size:20.8px;line-height:20.8px;font-weight:400;color:#2b3138;transform:scaleX(1.0695);-webkit-text-stroke:0.3px #2b3138;">Landfill</div>
<div class="t" style="left:932.07px;top:589.59px;font-size:20.8px;line-height:20.8px;font-weight:400;color:#2b3138;transform:scaleX(1.0355);-webkit-text-stroke:0.3px #2b3138;">Active</div>
<div class="t" style="left:1145.71px;top:589.59px;font-size:20.8px;line-height:20.8px;font-weight:400;color:#2b3138;transform:scaleX(1.0363);-webkit-text-stroke:0.3px #2b3138;">Kingsville</div>
<div class="t" style="left:1318.75px;top:589.59px;font-size:20.8px;line-height:20.8px;font-weight:400;color:#2b3138;transform:scaleX(0.8843);-webkit-text-stroke:0.3px #2b3138;">TX</div>
<div class="t" style="left:1394.64px;top:589.59px;font-size:20.8px;line-height:20.8px;font-weight:400;color:#2b3138;transform:scaleX(0.9805);-webkit-text-stroke:0.3px #2b3138;">78363</div>
<div class="t" style="left:1491.77px;top:589.59px;font-size:20.8px;line-height:20.8px;font-weight:400;color:#2b3138;transform:scaleX(1.1226);-webkit-text-stroke:0.3px #2b3138;">ton</div>
<div class="t" style="left:1583.27px;top:589.59px;font-size:20.8px;line-height:20.8px;font-weight:400;color:#2b3138;transform:scaleX(1.1226);-webkit-text-stroke:0.3px #2b3138;">ton</div>
<div class="t" style="left:1653.27px;top:589.59px;font-size:20.8px;line-height:20.8px;font-weight:400;color:#2b3138;transform:scaleX(0.9893);-webkit-text-stroke:0.3px #2b3138;">cubic…</div>
<div class="t" style="left:21.33px;top:630.29px;font-size:20.8px;line-height:20.8px;font-weight:400;color:#2b3138;transform:scaleX(1.0143);-webkit-text-stroke:0.3px #2b3138;">1011</div>
<div class="t" style="left:97.22px;top:630.29px;font-size:20.8px;line-height:20.8px;font-weight:400;color:#2b3138;transform:scaleX(0.9416);-webkit-text-stroke:0.3px #2b3138;">WCN-HARDY ROAD TS</div>
<div class="t" style="left:330.28px;top:630.29px;font-size:20.8px;line-height:20.8px;font-weight:400;color:#2b3138;transform:scaleX(0.9753);-webkit-text-stroke:0.3px #2b3138;">WCNHA</div>
<div class="t" style="left:480.57px;top:630.29px;font-size:20.8px;line-height:20.8px;font-weight:400;color:#2b3138;transform:scaleX(0.9848);-webkit-text-stroke:0.3px #2b3138;">DAYTON</div>
<div class="t" style="left:653.30px;top:630.29px;font-size:20.8px;line-height:20.8px;font-weight:400;color:#2b3138;transform:scaleX(0.9636);-webkit-text-stroke:0.3px #2b3138;">Transfer Sta…</div>
<div class="t" style="left:932.07px;top:630.29px;font-size:20.8px;line-height:20.8px;font-weight:400;color:#2b3138;transform:scaleX(1.0355);-webkit-text-stroke:0.3px #2b3138;">Active</div>
<div class="t" style="left:1007.53px;top:630.29px;font-size:20.8px;line-height:20.8px;font-weight:400;color:#2b3138;transform:scaleX(0.9360);-webkit-text-stroke:0.3px #2b3138;">18784 E H…</div>
<div class="t" style="left:1145.68px;top:630.29px;font-size:20.8px;line-height:20.8px;font-weight:400;color:#2b3138;transform:scaleX(1.0608);-webkit-text-stroke:0.3px #2b3138;">Houston</div>
<div class="t" style="left:1318.75px;top:630.29px;font-size:20.8px;line-height:20.8px;font-weight:400;color:#2b3138;transform:scaleX(0.8843);-webkit-text-stroke:0.3px #2b3138;">TX</div>
<div class="t" style="left:1394.64px;top:630.29px;font-size:20.8px;line-height:20.8px;font-weight:400;color:#2b3138;transform:scaleX(0.9805);-webkit-text-stroke:0.3px #2b3138;">77073</div>
<div class="t" style="left:1491.77px;top:630.29px;font-size:20.8px;line-height:20.8px;font-weight:400;color:#2b3138;transform:scaleX(1.1226);-webkit-text-stroke:0.3px #2b3138;">ton</div>
<div class="t" style="left:1583.27px;top:630.29px;font-size:20.8px;line-height:20.8px;font-weight:400;color:#2b3138;transform:scaleX(1.1226);-webkit-text-stroke:0.3px #2b3138;">ton</div>
<div class="t" style="left:1653.27px;top:630.29px;font-size:20.8px;line-height:20.8px;font-weight:400;color:#2b3138;transform:scaleX(0.9893);-webkit-text-stroke:0.3px #2b3138;">cubic…</div>
<div class="t" style="left:21.38px;top:671.09px;font-size:20.8px;line-height:20.8px;font-weight:400;color:#2b3138;transform:scaleX(0.9807);-webkit-text-stroke:0.3px #2b3138;">1012</div>
<div class="t" style="left:97.27px;top:671.09px;font-size:20.8px;line-height:20.8px;font-weight:400;color:#2b3138;transform:scaleX(0.9091);-webkit-text-stroke:0.3px #2b3138;">CHAMBERS COUNTY…</div>
<div class="t" style="left:330.29px;top:671.09px;font-size:20.8px;line-height:20.8px;font-weight:400;color:#2b3138;transform:scaleX(0.9679);-webkit-text-stroke:0.3px #2b3138;">CHAMB</div>
<div class="t" style="left:480.57px;top:671.09px;font-size:20.8px;line-height:20.8px;font-weight:400;color:#2b3138;transform:scaleX(0.9848);-webkit-text-stroke:0.3px #2b3138;">DAYTON</div>
<div class="t" style="left:687.26px;top:671.09px;font-size:20.8px;line-height:20.8px;font-weight:400;color:#2b3138;transform:scaleX(1.0695);-webkit-text-stroke:0.3px #2b3138;">Landfill</div>
<div class="t" style="left:824.15px;top:673.27px;font-size:20.0px;line-height:20.0px;font-weight:700;color:#23282e;transform:scaleX(1.0284);">Internal</div>
<div class="t" style="left:932.07px;top:671.09px;font-size:20.8px;line-height:20.8px;font-weight:400;color:#2b3138;transform:scaleX(1.0355);-webkit-text-stroke:0.3px #2b3138;">Active</div>
<div class="t" style="left:1007.48px;top:671.09px;font-size:20.8px;line-height:20.8px;font-weight:400;color:#2b3138;transform:scaleX(0.9760);-webkit-text-stroke:0.3px #2b3138;">7245 Vete…</div>
<div class="t" style="left:1145.72px;top:671.09px;font-size:20.8px;line-height:20.8px;font-weight:400;color:#2b3138;transform:scaleX(1.0282);-webkit-text-stroke:0.3px #2b3138;">Lanett</div>
<div class="t" style="left:1318.83px;top:671.09px;font-size:20.8px;line-height:20.8px;font-weight:400;color:#2b3138;transform:scaleX(0.9171);-webkit-text-stroke:0.3px #2b3138;">AL</div>
<div class="t" style="left:1394.64px;top:671.09px;font-size:20.8px;line-height:20.8px;font-weight:400;color:#2b3138;transform:scaleX(0.9805);-webkit-text-stroke:0.3px #2b3138;">36863</div>
<div class="t" style="left:1491.77px;top:671.09px;font-size:20.8px;line-height:20.8px;font-weight:400;color:#2b3138;transform:scaleX(1.1226);-webkit-text-stroke:0.3px #2b3138;">ton</div>
<div class="t" style="left:1569.83px;top:671.09px;font-size:20.8px;line-height:20.8px;font-weight:400;color:#2b3138;transform:scaleX(1.0471);-webkit-text-stroke:0.3px #2b3138;">ounce</div>
<div class="t" style="left:1653.27px;top:671.09px;font-size:20.8px;line-height:20.8px;font-weight:400;color:#2b3138;transform:scaleX(0.9893);-webkit-text-stroke:0.3px #2b3138;">cubic…</div>
<div class="t" style="left:1761.09px;top:671.09px;font-size:20.8px;line-height:20.8px;font-weight:400;color:#2b3138;transform:scaleX(1.0639);-webkit-text-stroke:0.3px #2b3138;">Internal</div>
<div style="position:absolute;left:11px;top:712px;width:2215px;height:56px;background:#fff;"></div>
<div style="position:absolute;left:12px;top:712px;width:209.8px;height:56px;background:#0066cc;border-radius:5px 5px 0 0;"></div>
<div class="t" style="left:48.06px;top:730.62px;font-size:21px;line-height:21px;font-weight:400;color:#fff;transform:scaleX(0.9376);-webkit-text-stroke:0.35px #fff;">Business Hours</div>
<div style="position:absolute;left:225.3px;top:712px;width:145.2px;height:56px;background:#0066cc;border-radius:5px 5px 0 0;"></div>
<div class="t" style="left:260.81px;top:730.62px;font-size:21px;line-height:21px;font-weight:400;color:#fff;transform:scaleX(1.0117);-webkit-text-stroke:0.35px #fff;">Division</div>
<div style="position:absolute;left:374px;top:712px;width:200px;height:56px;background:#0066cc;border-radius:5px 5px 0 0;"></div>
<div class="t" style="left:410.25px;top:730.62px;font-size:21px;line-height:21px;font-weight:400;color:#fff;transform:scaleX(1.0177);-webkit-text-stroke:0.35px #fff;">Material Type</div>
<div style="position:absolute;left:578px;top:712px;width:198.39999999999998px;height:56px;background:#99ccff;border-radius:5px 5px 0 0;"></div>
<div class="t" style="left:613.25px;top:730.62px;font-size:21px;line-height:21px;font-weight:400;color:#0f1f3a;transform:scaleX(0.9538);-webkit-text-stroke:0.35px #0f1f3a;">Disposal Rate</div>
<div style="position:absolute;left:779px;top:712px;width:143.79999999999995px;height:56px;background:#0066cc;border-radius:5px 5px 0 0;"></div>
<div class="t" style="left:824.71px;top:730.62px;font-size:21px;line-height:21px;font-weight:400;color:#fff;transform:scaleX(0.9586);-webkit-text-stroke:0.35px #fff;">Tanks</div>
<div style="position:absolute;left:925.5px;top:712px;width:194.0px;height:56px;background:#0066cc;border-radius:5px 5px 0 0;"></div>
<div class="t" style="left:961.16px;top:730.62px;font-size:21px;line-height:21px;font-weight:400;color:#fff;transform:scaleX(0.9855);-webkit-text-stroke:0.35px #fff;">Target Usage</div>
<div style="position:absolute;left:11px;top:768px;width:2215px;height:10px;background:#99ccff;"></div>
<div style="position:absolute;left:566px;top:702px;width:224px;height:78px;border:6.3px solid #f65b4b;box-sizing:border-box;box-shadow:0 5px 4px rgba(0,0,0,0.45), inset 0 4px 3px rgba(0,0,0,0.45);"></div>
<svg style="position:absolute;overflow:visible;left:32px;top:794px" width="40" height="40" viewBox="0 0 40 40"><circle cx="20" cy="20" r="20" fill="#44ab48"/><rect x="7.8" y="17.2" width="24.4" height="5.6" fill="#fff"/><rect x="17.2" y="7.8" width="5.6" height="24.4" fill="#fff"/></svg>
<div style="position:absolute;left:11px;top:851px;width:2215px;height:1px;background:#c3d7ec;"></div>
<div class="t" style="left:17.16px;top:863.76px;font-size:18.6px;line-height:18.6px;font-weight:700;color:#262c33;transform:scaleX(0.9344);">MATERIAL</div>
<div class="t" style="left:17.21px;top:893.76px;font-size:18.6px;line-height:18.6px;font-weight:700;color:#262c33;transform:scaleX(0.8867);">TYPE</div>
<div class="t" style="left:146.34px;top:863.76px;font-size:18.6px;line-height:18.6px;font-weight:700;color:#262c33;transform:scaleX(0.9478);">ORIGIN</div>
<div class="t" style="left:253.85px;top:863.76px;font-size:18.6px;line-height:18.6px;font-weight:700;color:#262c33;transform:scaleX(0.8513);">EFFECTIVE</div>
<div class="t" style="left:253.77px;top:893.76px;font-size:18.6px;line-height:18.6px;font-weight:700;color:#262c33;transform:scaleX(0.9274);">DATE</div>
<div class="t" style="left:360.60px;top:863.76px;font-size:18.6px;line-height:18.6px;font-weight:700;color:#262c33;transform:scaleX(0.8949);">RATE</div>
<div class="t" style="left:487.93px;top:863.76px;font-size:18.6px;line-height:18.6px;font-weight:700;color:#262c33;transform:scaleX(0.9611);">RATE UOM</div>
<div class="t" style="left:595.26px;top:863.76px;font-size:18.6px;line-height:18.6px;font-weight:700;color:#262c33;transform:scaleX(1.0178);">MINI…</div>
<div class="t" style="left:595.30px;top:893.76px;font-size:18.6px;line-height:18.6px;font-weight:700;color:#262c33;transform:scaleX(0.9854);">QUAN…</div>
<div class="t" style="left:679.17px;top:863.76px;font-size:18.6px;line-height:18.6px;font-weight:700;color:#262c33;transform:scaleX(0.9229);">NOTE</div>
<div class="t" style="left:808.53px;top:863.76px;font-size:18.6px;line-height:18.6px;font-weight:700;color:#262c33;transform:scaleX(0.8684);">FEE 1</div>
<div class="t" style="left:915.43px;top:863.76px;font-size:18.6px;line-height:18.6px;font-weight:700;color:#262c33;transform:scaleX(0.8684);">FEE 1</div>
<div class="t" style="left:915.40px;top:893.76px;font-size:18.6px;line-height:18.6px;font-weight:700;color:#262c33;transform:scaleX(0.8949);">TYPE</div>
<div class="t" style="left:988.03px;top:863.76px;font-size:18.6px;line-height:18.6px;font-weight:700;color:#262c33;transform:scaleX(0.8684);">FEE 1</div>
<div class="t" style="left:987.90px;top:893.76px;font-size:18.6px;line-height:18.6px;font-weight:700;color:#262c33;transform:scaleX(0.9877);">NAME</div>
<div class="t" style="left:1095.33px;top:863.76px;font-size:18.6px;line-height:18.6px;font-weight:700;color:#262c33;transform:scaleX(0.8684);">FEE 2</div>
<div class="t" style="left:1203.03px;top:863.76px;font-size:18.6px;line-height:18.6px;font-weight:700;color:#262c33;transform:scaleX(0.8684);">FEE 2</div>
<div class="t" style="left:1203.00px;top:893.76px;font-size:18.6px;line-height:18.6px;font-weight:700;color:#262c33;transform:scaleX(0.8949);">TYPE</div>
<div class="t" style="left:1275.53px;top:863.76px;font-size:18.6px;line-height:18.6px;font-weight:700;color:#262c33;transform:scaleX(0.8684);">FEE 2</div>
<div class="t" style="left:1275.40px;top:893.76px;font-size:18.6px;line-height:18.6px;font-weight:700;color:#262c33;transform:scaleX(0.9877);">NAME</div>
<div class="t" style="left:1381.23px;top:863.76px;font-size:18.6px;line-height:18.6px;font-weight:700;color:#262c33;transform:scaleX(0.8684);">FEE 3</div>
<div class="t" style="left:1486.73px;top:863.76px;font-size:18.6px;line-height:18.6px;font-weight:700;color:#262c33;transform:scaleX(0.8684);">FEE 3</div>
<div class="t" style="left:1486.70px;top:893.76px;font-size:18.6px;line-height:18.6px;font-weight:700;color:#262c33;transform:scaleX(0.8949);">TYPE</div>
<div class="t" style="left:1559.33px;top:863.76px;font-size:18.6px;line-height:18.6px;font-weight:700;color:#262c33;transform:scaleX(0.8684);">FEE 3</div>
<div class="t" style="left:1559.20px;top:893.76px;font-size:18.6px;line-height:18.6px;font-weight:700;color:#262c33;transform:scaleX(0.9877);">NAME</div>
<div class="t" style="left:1665.23px;top:863.76px;font-size:18.6px;line-height:18.6px;font-weight:700;color:#262c33;transform:scaleX(0.8684);">FEE 4</div>
<div class="t" style="left:1770.03px;top:863.76px;font-size:18.6px;line-height:18.6px;font-weight:700;color:#262c33;transform:scaleX(0.8684);">FEE 4</div>
<div class="t" style="left:1770.00px;top:893.76px;font-size:18.6px;line-height:18.6px;font-weight:700;color:#262c33;transform:scaleX(0.8949);">TYPE</div>
<div class="t" style="left:1842.63px;top:863.76px;font-size:18.6px;line-height:18.6px;font-weight:700;color:#262c33;transform:scaleX(0.8684);">FEE 4</div>
<div class="t" style="left:1842.50px;top:893.76px;font-size:18.6px;line-height:18.6px;font-weight:700;color:#262c33;transform:scaleX(0.9877);">NAME</div>
<div class="t" style="left:1948.53px;top:863.76px;font-size:18.6px;line-height:18.6px;font-weight:700;color:#262c33;transform:scaleX(0.8684);">FEE 5</div>
<div class="t" style="left:2054.03px;top:863.76px;font-size:18.6px;line-height:18.6px;font-weight:700;color:#262c33;transform:scaleX(0.8684);">FEE 5</div>
<div class="t" style="left:2054.00px;top:893.76px;font-size:18.6px;line-height:18.6px;font-weight:700;color:#262c33;transform:scaleX(0.8949);">TYPE</div>
<div class="t" style="left:2126.73px;top:863.76px;font-size:18.6px;line-height:18.6px;font-weight:700;color:#262c33;transform:scaleX(0.8684);">FEE 5</div>
<div class="t" style="left:2126.60px;top:893.76px;font-size:18.6px;line-height:18.6px;font-weight:700;color:#262c33;transform:scaleX(0.9877);">NAME</div>
<div style="position:absolute;left:11px;top:923.5px;width:2215px;height:2.0px;background:#b0cbe5;"></div>
<div style="position:absolute;left:12px;top:925.5px;width:2213px;height:40.89999999999998px;background:#eaeaea;"></div>
<div style="position:absolute;left:12px;top:965.9px;width:2213px;height:1.0px;background:#dcdcdc;"></div>
<div style="position:absolute;left:12px;top:1007.2px;width:2213px;height:1.0px;background:#dcdcdc;"></div>
<div style="position:absolute;left:12px;top:1047.8px;width:2213px;height:1.0px;background:#dcdcdc;"></div>
<div style="position:absolute;left:12px;top:1088.5px;width:2213px;height:1.0px;background:#dcdcdc;"></div>
<div class="t" style="left:20.52px;top:935.29px;font-size:20.8px;line-height:20.8px;font-weight:400;color:#2b3138;transform:scaleX(0.9460);-webkit-text-stroke:0.3px #2b3138;">MSW</div>
<div class="t" style="left:257.07px;top:935.29px;font-size:20.8px;line-height:20.8px;font-weight:400;color:#2b3138;transform:scaleX(0.9838);-webkit-text-stroke:0.3px #2b3138;">06/07/2…</div>
<div class="t" style="left:364.50px;top:935.29px;font-size:20.8px;line-height:20.8px;font-weight:400;color:#2b3138;transform:scaleX(0.9601);-webkit-text-stroke:0.3px #2b3138;">$ 22.70</div>
<div class="t" style="left:491.70px;top:935.29px;font-size:20.8px;line-height:20.8px;font-weight:400;color:#2b3138;transform:scaleX(1.1226);-webkit-text-stroke:0.3px #2b3138;">ton</div>
<div class="t" style="left:811.81px;top:935.29px;font-size:20.8px;line-height:20.8px;font-weight:400;color:#2b3138;transform:scaleX(0.9559);-webkit-text-stroke:0.3px #2b3138;">$ 5.51</div>
<div class="t" style="left:919.84px;top:935.29px;font-size:20.8px;line-height:20.8px;font-weight:400;color:#2b3138;transform:scaleX(0.9335);-webkit-text-stroke:0.3px #2b3138;">%</div>
<div class="t" style="left:991.40px;top:935.29px;font-size:20.8px;line-height:20.8px;font-weight:400;color:#2b3138;transform:scaleX(0.8809);-webkit-text-stroke:0.3px #2b3138;">STATE …</div>
<div class="t" style="left:1098.61px;top:935.29px;font-size:20.8px;line-height:20.8px;font-weight:400;color:#2b3138;transform:scaleX(0.9559);-webkit-text-stroke:0.3px #2b3138;">$ 7.12</div>
<div class="t" style="left:1206.64px;top:935.29px;font-size:20.8px;line-height:20.8px;font-weight:400;color:#2b3138;transform:scaleX(0.9335);-webkit-text-stroke:0.3px #2b3138;">%</div>
<div class="t" style="left:1279.01px;top:935.29px;font-size:20.8px;line-height:20.8px;font-weight:400;color:#2b3138;transform:scaleX(0.9506);-webkit-text-stroke:0.3px #2b3138;">7.12</div>
<div class="t" style="left:1385.21px;top:935.29px;font-size:20.8px;line-height:20.8px;font-weight:400;color:#2b3138;transform:scaleX(0.9559);-webkit-text-stroke:0.3px #2b3138;">$ 0.00</div>
<div class="t" style="left:1489.67px;top:935.29px;font-size:20.8px;line-height:20.8px;font-weight:400;color:#2b3138;transform:scaleX(0.9835);-webkit-text-stroke:0.3px #2b3138;">Flat</div>
<div class="t" style="left:1668.51px;top:935.29px;font-size:20.8px;line-height:20.8px;font-weight:400;color:#2b3138;transform:scaleX(0.9559);-webkit-text-stroke:0.3px #2b3138;">$ 0.00</div>
<div class="t" style="left:1772.97px;top:935.29px;font-size:20.8px;line-height:20.8px;font-weight:400;color:#2b3138;transform:scaleX(0.9835);-webkit-text-stroke:0.3px #2b3138;">Flat</div>
<div class="t" style="left:1952.21px;top:935.29px;font-size:20.8px;line-height:20.8px;font-weight:400;color:#2b3138;transform:scaleX(0.9559);-webkit-text-stroke:0.3px #2b3138;">$ 0.00</div>
<div class="t" style="left:2057.27px;top:935.29px;font-size:20.8px;line-height:20.8px;font-weight:400;color:#2b3138;transform:scaleX(0.9835);-webkit-text-stroke:0.3px #2b3138;">Flat</div>
<div class="t" style="left:20.52px;top:975.79px;font-size:20.8px;line-height:20.8px;font-weight:400;color:#2b3138;transform:scaleX(0.9460);-webkit-text-stroke:0.3px #2b3138;">MSW</div>
<div class="t" style="left:257.07px;top:975.79px;font-size:20.8px;line-height:20.8px;font-weight:400;color:#2b3138;transform:scaleX(0.9838);-webkit-text-stroke:0.3px #2b3138;">05/29/2…</div>
<div class="t" style="left:364.50px;top:975.79px;font-size:20.8px;line-height:20.8px;font-weight:400;color:#2b3138;transform:scaleX(0.9601);-webkit-text-stroke:0.3px #2b3138;">$ 65.00</div>
<div class="t" style="left:491.70px;top:975.79px;font-size:20.8px;line-height:20.8px;font-weight:400;color:#2b3138;transform:scaleX(1.1226);-webkit-text-stroke:0.3px #2b3138;">ton</div>
<div class="t" style="left:811.81px;top:975.79px;font-size:20.8px;line-height:20.8px;font-weight:400;color:#2b3138;transform:scaleX(0.9559);-webkit-text-stroke:0.3px #2b3138;">$ 5.00</div>
<div class="t" style="left:919.84px;top:975.79px;font-size:20.8px;line-height:20.8px;font-weight:400;color:#2b3138;transform:scaleX(0.9335);-webkit-text-stroke:0.3px #2b3138;">%</div>
<div class="t" style="left:1098.61px;top:975.79px;font-size:20.8px;line-height:20.8px;font-weight:400;color:#2b3138;transform:scaleX(0.9559);-webkit-text-stroke:0.3px #2b3138;">$ 3.33</div>
<div class="t" style="left:1206.57px;top:975.79px;font-size:20.8px;line-height:20.8px;font-weight:400;color:#2b3138;transform:scaleX(0.9835);-webkit-text-stroke:0.3px #2b3138;">Flat</div>
<div class="t" style="left:1385.21px;top:975.79px;font-size:20.8px;line-height:20.8px;font-weight:400;color:#2b3138;transform:scaleX(0.9559);-webkit-text-stroke:0.3px #2b3138;">$ 0.00</div>
<div class="t" style="left:1489.67px;top:975.79px;font-size:20.8px;line-height:20.8px;font-weight:400;color:#2b3138;transform:scaleX(0.9835);-webkit-text-stroke:0.3px #2b3138;">Flat</div>
<div class="t" style="left:1668.51px;top:975.79px;font-size:20.8px;line-height:20.8px;font-weight:400;color:#2b3138;transform:scaleX(0.9559);-webkit-text-stroke:0.3px #2b3138;">$ 0.00</div>
<div class="t" style="left:1772.97px;top:975.79px;font-size:20.8px;line-height:20.8px;font-weight:400;color:#2b3138;transform:scaleX(0.9835);-webkit-text-stroke:0.3px #2b3138;">Flat</div>
<div class="t" style="left:1952.21px;top:975.79px;font-size:20.8px;line-height:20.8px;font-weight:400;color:#2b3138;transform:scaleX(0.9559);-webkit-text-stroke:0.3px #2b3138;">$ 0.00</div>
<div class="t" style="left:2057.27px;top:975.79px;font-size:20.8px;line-height:20.8px;font-weight:400;color:#2b3138;transform:scaleX(0.9835);-webkit-text-stroke:0.3px #2b3138;">Flat</div>
<div class="t" style="left:20.42px;top:1016.79px;font-size:20.8px;line-height:20.8px;font-weight:400;color:#2b3138;transform:scaleX(1.0223);-webkit-text-stroke:0.3px #2b3138;">C&amp;D</div>
<div class="t" style="left:257.07px;top:1016.79px;font-size:20.8px;line-height:20.8px;font-weight:400;color:#2b3138;transform:scaleX(0.9838);-webkit-text-stroke:0.3px #2b3138;">09/30/2…</div>
<div class="t" style="left:364.50px;top:1016.79px;font-size:20.8px;line-height:20.8px;font-weight:400;color:#2b3138;transform:scaleX(0.9601);-webkit-text-stroke:0.3px #2b3138;">$ 50.00</div>
<div class="t" style="left:491.86px;top:1016.79px;font-size:20.8px;line-height:20.8px;font-weight:400;color:#2b3138;transform:scaleX(0.9918);-webkit-text-stroke:0.3px #2b3138;">cubic y…</div>
<div class="t" style="left:811.81px;top:1016.79px;font-size:20.8px;line-height:20.8px;font-weight:400;color:#2b3138;transform:scaleX(0.9559);-webkit-text-stroke:0.3px #2b3138;">$ 0.00</div>
<div class="t" style="left:20.51px;top:1058.09px;font-size:20.8px;line-height:20.8px;font-weight:400;color:#2b3138;transform:scaleX(0.9516);-webkit-text-stroke:0.3px #2b3138;">Special W…</div>
<div class="t" style="left:257.07px;top:1058.09px;font-size:20.8px;line-height:20.8px;font-weight:400;color:#2b3138;transform:scaleX(0.9838);-webkit-text-stroke:0.3px #2b3138;">02/29/2…</div>
<div class="t" style="left:364.50px;top:1058.09px;font-size:20.8px;line-height:20.8px;font-weight:400;color:#2b3138;transform:scaleX(0.9601);-webkit-text-stroke:0.3px #2b3138;">$ 52.00</div>
<div class="t" style="left:491.70px;top:1058.09px;font-size:20.8px;line-height:20.8px;font-weight:400;color:#2b3138;transform:scaleX(1.1226);-webkit-text-stroke:0.3px #2b3138;">ton</div>
<div class="t" style="left:811.81px;top:1058.09px;font-size:20.8px;line-height:20.8px;font-weight:400;color:#2b3138;transform:scaleX(0.9559);-webkit-text-stroke:0.3px #2b3138;">$ 0.00</div>
<div style="position:absolute;left:854px;top:1006px;width:1319px;height:994.5999999999999px;background:#000;box-shadow:5px 7px 12px rgba(0,0,0,0.45);"></div>
<div style="position:absolute;left:857.6px;top:1010px;width:1312.4px;height:987.5999999999999px;background:#fff;border-left:2.6px solid #a0a0a0;border-bottom:4px solid #a6a6a6;box-sizing:border-box;border-radius:0 0 0 4px;"></div>
<div style="position:absolute;left:858px;top:1010px;width:1312px;height:58px;background:#0066cc;"></div>
<div style="position:absolute;left:858px;top:1010px;width:2px;height:58px;background:#c9d6e6;"></div>
<div class="t" style="left:875.86px;top:1029.32px;font-size:20.3px;line-height:20.3px;font-weight:700;color:#fff;transform:scaleX(0.9340);">ADD DISPOSAL RATE</div>
<svg style="position:absolute;overflow:visible;left:2074px;top:1023px" width="30" height="30" viewBox="0 0 30 30"><circle cx="15" cy="15" r="14.8" fill="#46ad47"/><path d="M10.7 9.4 C10.9 7.2 12.4 6.2 14.4 6.2 C16.6 6.2 18.4 7.5 18.4 9.7 C18.4 12.2 15.3 13.1 14.2 15.6 L13.8 17.3" stroke="#fff" stroke-width="3.1" fill="none" stroke-linecap="round"/><circle cx="13.7" cy="21.9" r="2.1" fill="#fff"/></svg>
<svg style="position:absolute;overflow:visible;left:2130px;top:1024.5px" width="27" height="27" viewBox="0 0 27 27"><circle cx="13.5" cy="13.5" r="13.4" fill="#e6f0fb"/><path d="M7 7.5 L20 19.5 M20 7.5 L7 19.5" stroke="#1c6bc2" stroke-width="2.8"/></svg>
<div style="position:absolute;left:860.2px;top:1936px;width:1309.8px;height:57.59999999999991px;background:#e4f0fc;border-radius:0 0 0 4px;"></div>
<div style="position:absolute;left:1433.4px;top:1946px;width:162.5999999999999px;height:38.700000000000045px;background:#a2c4ad;border-radius:5px;"></div>
<div class="t" style="left:1491.91px;top:1957.16px;font-size:18.6px;line-height:18.6px;font-weight:700;color:#f3f9f5;transform:scaleX(0.9332);">SAVE</div>
<div style="position:absolute;left:857.6px;top:1573px;width:3.0px;height:52px;background:#0a3f7d;"></div>
<div style="position:absolute;left:857.6px;top:1625px;width:3.0px;height:8.5px;background:#7f9cc6;"></div>
<div class="t" style="left:915.86px;top:1117.09px;font-size:16.9px;line-height:16.9px;font-weight:700;color:#2b3138;transform:scaleX(0.9253);">DISPOSAL LOCATION</div>
<div class="t" style="left:915.85px;top:1169.09px;font-size:16.9px;line-height:16.9px;font-weight:700;color:#2b3138;transform:scaleX(0.9339);">SOURCE DIVISION</div>
<div class="t" style="left:915.86px;top:1221.69px;font-size:16.9px;line-height:16.9px;font-weight:700;color:#2b3138;transform:scaleX(0.9287);">MATERIAL TYPE</div>
<div class="t" style="left:915.84px;top:1273.69px;font-size:16.9px;line-height:16.9px;font-weight:700;color:#2b3138;transform:scaleX(0.9444);">ORIGIN</div>
<div class="t" style="left:915.90px;top:1326.09px;font-size:16.9px;line-height:16.9px;font-weight:700;color:#2b3138;transform:scaleX(0.8889);">EFFECTIVE DATE</div>
<div class="t" style="left:915.90px;top:1377.69px;font-size:16.9px;line-height:16.9px;font-weight:700;color:#2b3138;transform:scaleX(0.8835);">RATE</div>
<div class="t" style="left:915.83px;top:1430.29px;font-size:16.9px;line-height:16.9px;font-weight:700;color:#2b3138;transform:scaleX(0.9571);">RATE UOM</div>
<div class="t" style="left:915.77px;top:1482.09px;font-size:16.9px;line-height:16.9px;font-weight:700;color:#2b3138;transform:scaleX(1.0144);">MINIMUM QUANTITY</div>
<div class="t" style="left:915.86px;top:1534.09px;font-size:16.9px;line-height:16.9px;font-weight:700;color:#2b3138;transform:scaleX(0.9318);">NOTE</div>
<div style="position:absolute;left:1109.4px;top:1104px;width:394.79999999999995px;height:38px;border:1px solid #cfe3c3;box-sizing:border-box;background:#fff;"></div>
<div class="t" style="left:1116.04px;top:1113.39px;font-size:18.8px;line-height:18.8px;font-weight:400;color:#2b3138;transform:scaleX(0.8480);-webkit-text-stroke:0.3px #2b3138;">CEFE LF</div>
<svg style="position:absolute;overflow:visible;left:1477.2px;top:1120px" width="14" height="6.8" viewBox="0 0 14 6.8"><path d="M0 0 L14 0 L7.0 6.8 Z" fill="#979797" stroke="#979797" stroke-width="0.8" stroke-linejoin="round"/></svg>
<div style="position:absolute;left:1109.4px;top:1156px;width:394.79999999999995px;height:37.5px;border:1px solid #cfe3c3;box-sizing:border-box;background:#fff;"></div>
<svg style="position:absolute;overflow:visible;left:1440.7px;top:1172px" width="14" height="6.8" viewBox="0 0 14 6.8"><path d="M0 0 L14 0 L7.0 6.8 Z" fill="#979797" stroke="#979797" stroke-width="0.8" stroke-linejoin="round"/></svg>
<svg style="position:absolute;overflow:visible;left:1472.2px;top:1163.2px" width="23.6" height="23.6" viewBox="0 0 23.6 23.6"><circle cx="11.8" cy="11.8" r="11.8" fill="#d4d4d4"/><path d="M6.844 6.844 L16.756 16.756 M16.756 6.844 L6.844 16.756" stroke="#fff" stroke-width="1.4"/></svg>
<div style="position:absolute;left:1109.4px;top:1208.6px;width:394.79999999999995px;height:37.700000000000045px;border:1px solid #cfe3c3;box-sizing:border-box;background:#fff;"></div>
<div style="position:absolute;left:1110.4px;top:1209.6px;width:355.0999999999999px;height:35.700000000000045px;background:#f9ebe8;"></div>
<svg style="position:absolute;overflow:visible;left:1477.2px;top:1224.6px" width="14" height="6.8" viewBox="0 0 14 6.8"><path d="M0 0 L14 0 L7.0 6.8 Z" fill="#979797" stroke="#979797" stroke-width="0.8" stroke-linejoin="round"/></svg>
<div style="position:absolute;left:1109.4px;top:1260.6px;width:394.79999999999995px;height:37.5px;border:1px solid #cfe3c3;box-sizing:border-box;background:#fff;"></div>
<svg style="position:absolute;overflow:visible;left:1440.7px;top:1276.6px" width="14" height="6.8" viewBox="0 0 14 6.8"><path d="M0 0 L14 0 L7.0 6.8 Z" fill="#979797" stroke="#979797" stroke-width="0.8" stroke-linejoin="round"/></svg>
<svg style="position:absolute;overflow:visible;left:1472.2px;top:1267.8px" width="23.6" height="23.6" viewBox="0 0 23.6 23.6"><circle cx="11.8" cy="11.8" r="11.8" fill="#d4d4d4"/><path d="M6.844 6.844 L16.756 16.756 M16.756 6.844 L6.844 16.756" stroke="#fff" stroke-width="1.4"/></svg>
<div style="position:absolute;left:1109.4px;top:1313px;width:394.79999999999995px;height:37.299999999999955px;border:1px solid #cfe3c3;box-sizing:border-box;background:#fff;"></div>
<div class="t" style="left:1116.87px;top:1322.19px;font-size:18.8px;line-height:18.8px;font-weight:400;color:#2b3138;transform:scaleX(1.0052);-webkit-text-stroke:0.3px #2b3138;">11/11/2025</div>
<svg style="position:absolute;overflow:visible;left:1472px;top:1320px" width="26" height="24" viewBox="0 0 26 24"><g fill="#8f8f8f"><rect x="0" y="0" width="26" height="2.2"/><rect x="0.5" y="4.5" width="4.6" height="4.6"/><rect x="7.2" y="4.5" width="4.6" height="4.6"/><rect x="13.9" y="4.5" width="4.6" height="4.6"/><rect x="20.6" y="4.5" width="4.6" height="4.6"/><rect x="0.5" y="10.2" width="4.6" height="4.6"/><rect x="7.2" y="10.2" width="4.6" height="4.6"/><rect x="13.9" y="10.2" width="4.6" height="4.6"/><rect x="20.6" y="10.2" width="4.6" height="4.6"/><rect x="0.5" y="16.8" width="4.6" height="4.6"/><rect x="7.2" y="16.8" width="4.6" height="4.6"/><rect x="13.9" y="16.8" width="4.6" height="4.6"/><rect x="20.6" y="16.8" width="4.6" height="4.6"/></g></svg>
<div style="position:absolute;left:1109.4px;top:1364.6px;width:394.79999999999995px;height:37.40000000000009px;border:1px solid #cfe3c3;box-sizing:border-box;background:#f9ebe8;"></div>
<div style="position:absolute;left:1109.4px;top:1417.2px;width:394.79999999999995px;height:37.700000000000045px;border:1px solid #cfe3c3;box-sizing:border-box;background:#fff;"></div>
<div style="position:absolute;left:1110.4px;top:1418.2px;width:355.0999999999999px;height:35.700000000000045px;background:#f9ebe8;"></div>
<svg style="position:absolute;overflow:visible;left:1477.2px;top:1433.2px" width="14" height="6.8" viewBox="0 0 14 6.8"><path d="M0 0 L14 0 L7.0 6.8 Z" fill="#979797" stroke="#979797" stroke-width="0.8" stroke-linejoin="round"/></svg>
<div style="position:absolute;left:1109.4px;top:1469px;width:394.79999999999995px;height:37.799999999999955px;border:1px solid #cfe3c3;box-sizing:border-box;background:#fff;"></div>
<div style="position:absolute;left:1109.4px;top:1521px;width:394.79999999999995px;height:83.20000000000005px;border:1px solid #cfe3c3;box-sizing:border-box;background:#fff;"></div>
<div class="t" style="left:1574.42px;top:1117.09px;font-size:16.9px;line-height:16.9px;font-weight:700;color:#2b3138;transform:scaleX(0.8697);">FEE 1</div>
<div style="position:absolute;left:1700.5px;top:1104.2px;width:394.0999999999999px;height:38.0px;border:1px solid #cfe3c3;box-sizing:border-box;background:#fff;"></div>
<div class="t" style="left:1574.40px;top:1169.09px;font-size:16.9px;line-height:16.9px;font-weight:700;color:#2b3138;transform:scaleX(0.8869);">FEE 1 TYPE</div>
<div style="position:absolute;left:1700.5px;top:1156.2px;width:394.0999999999999px;height:37.799999999999955px;border:1px solid #cfe3c3;box-sizing:border-box;background:#fff;"></div>
<div class="t" style="left:1707.24px;top:1165.69px;font-size:18.8px;line-height:18.8px;font-weight:400;color:#2b3138;transform:scaleX(1.0313);-webkit-text-stroke:0.3px #2b3138;">Flat</div>
<svg style="position:absolute;overflow:visible;left:2068px;top:1172.2px" width="14" height="6.8" viewBox="0 0 14 6.8"><path d="M0 0 L14 0 L7.0 6.8 Z" fill="#979797" stroke="#979797" stroke-width="0.8" stroke-linejoin="round"/></svg>
<div class="t" style="left:1574.35px;top:1221.29px;font-size:16.9px;line-height:16.9px;font-weight:700;color:#2b3138;transform:scaleX(0.9403);">FEE 1 NAME</div>
<div style="position:absolute;left:1700.5px;top:1208.4px;width:394.0999999999999px;height:39.5px;border:1px solid #cfe3c3;box-sizing:border-box;background:#fff;"></div>
<div class="t" style="left:1574.42px;top:1274.89px;font-size:16.9px;line-height:16.9px;font-weight:700;color:#2b3138;transform:scaleX(0.8697);">FEE 2</div>
<div style="position:absolute;left:1700.5px;top:1262px;width:394.0999999999999px;height:38px;border:1px solid #cfe3c3;box-sizing:border-box;background:#fff;"></div>
<div class="t" style="left:1574.40px;top:1326.49px;font-size:16.9px;line-height:16.9px;font-weight:700;color:#2b3138;transform:scaleX(0.8869);">FEE 2 TYPE</div>
<div style="position:absolute;left:1700.5px;top:1313.6px;width:394.0999999999999px;height:37.799999999999955px;border:1px solid #cfe3c3;box-sizing:border-box;background:#fff;"></div>
<div class="t" style="left:1707.24px;top:1323.09px;font-size:18.8px;line-height:18.8px;font-weight:400;color:#2b3138;transform:scaleX(1.0313);-webkit-text-stroke:0.3px #2b3138;">Flat</div>
<svg style="position:absolute;overflow:visible;left:2068px;top:1329.6px" width="14" height="6.8" viewBox="0 0 14 6.8"><path d="M0 0 L14 0 L7.0 6.8 Z" fill="#979797" stroke="#979797" stroke-width="0.8" stroke-linejoin="round"/></svg>
<div class="t" style="left:1574.35px;top:1378.69px;font-size:16.9px;line-height:16.9px;font-weight:700;color:#2b3138;transform:scaleX(0.9403);">FEE 2 NAME</div>
<div style="position:absolute;left:1700.5px;top:1365.8px;width:394.0999999999999px;height:39.5px;border:1px solid #cfe3c3;box-sizing:border-box;background:#fff;"></div>
<div class="t" style="left:1574.42px;top:1432.69px;font-size:16.9px;line-height:16.9px;font-weight:700;color:#2b3138;transform:scaleX(0.8697);">FEE 3</div>
<div style="position:absolute;left:1700.5px;top:1419.8px;width:394.0999999999999px;height:38.0px;border:1px solid #cfe3c3;box-sizing:border-box;background:#fff;"></div>
<div class="t" style="left:1574.40px;top:1485.29px;font-size:16.9px;line-height:16.9px;font-weight:700;color:#2b3138;transform:scaleX(0.8869);">FEE 3 TYPE</div>
<div style="position:absolute;left:1700.5px;top:1472.4px;width:394.0999999999999px;height:37.799999999999955px;border:1px solid #cfe3c3;box-sizing:border-box;background:#fff;"></div>
<div class="t" style="left:1707.24px;top:1481.89px;font-size:18.8px;line-height:18.8px;font-weight:400;color:#2b3138;transform:scaleX(1.0313);-webkit-text-stroke:0.3px #2b3138;">Flat</div>
<svg style="position:absolute;overflow:visible;left:2068px;top:1488.4px" width="14" height="6.8" viewBox="0 0 14 6.8"><path d="M0 0 L14 0 L7.0 6.8 Z" fill="#979797" stroke="#979797" stroke-width="0.8" stroke-linejoin="round"/></svg>
<div class="t" style="left:1574.35px;top:1537.19px;font-size:16.9px;line-height:16.9px;font-weight:700;color:#2b3138;transform:scaleX(0.9403);">FEE 3 NAME</div>
<div style="position:absolute;left:1700.5px;top:1524.3px;width:394.0999999999999px;height:39.5px;border:1px solid #cfe3c3;box-sizing:border-box;background:#fff;"></div>
<div class="t" style="left:1574.42px;top:1590.69px;font-size:16.9px;line-height:16.9px;font-weight:700;color:#2b3138;transform:scaleX(0.8697);">FEE 4</div>
<div style="position:absolute;left:1700.5px;top:1577.8px;width:394.0999999999999px;height:38.0px;border:1px solid #cfe3c3;box-sizing:border-box;background:#fff;"></div>
<div class="t" style="left:1574.40px;top:1643.09px;font-size:16.9px;line-height:16.9px;font-weight:700;color:#2b3138;transform:scaleX(0.8869);">FEE 4 TYPE</div>
<div style="position:absolute;left:1700.5px;top:1630.2px;width:394.0999999999999px;height:37.799999999999955px;border:1px solid #cfe3c3;box-sizing:border-box;background:#fff;"></div>
<div class="t" style="left:1707.24px;top:1639.69px;font-size:18.8px;line-height:18.8px;font-weight:400;color:#2b3138;transform:scaleX(1.0313);-webkit-text-stroke:0.3px #2b3138;">Flat</div>
<svg style="position:absolute;overflow:visible;left:2068px;top:1646.2px" width="14" height="6.8" viewBox="0 0 14 6.8"><path d="M0 0 L14 0 L7.0 6.8 Z" fill="#979797" stroke="#979797" stroke-width="0.8" stroke-linejoin="round"/></svg>
<div class="t" style="left:1574.35px;top:1695.39px;font-size:16.9px;line-height:16.9px;font-weight:700;color:#2b3138;transform:scaleX(0.9403);">FEE 4 NAME</div>
<div style="position:absolute;left:1700.5px;top:1682.5px;width:394.0999999999999px;height:39.5px;border:1px solid #cfe3c3;box-sizing:border-box;background:#fff;"></div>
<div class="t" style="left:1574.42px;top:1749.19px;font-size:16.9px;line-height:16.9px;font-weight:700;color:#2b3138;transform:scaleX(0.8697);">FEE 5</div>
<div style="position:absolute;left:1700.5px;top:1736.3px;width:394.0999999999999px;height:38.0px;border:1px solid #cfe3c3;box-sizing:border-box;background:#fff;"></div>
<div class="t" style="left:1574.40px;top:1801.09px;font-size:16.9px;line-height:16.9px;font-weight:700;color:#2b3138;transform:scaleX(0.8869);">FEE 5 TYPE</div>
<div style="position:absolute;left:1700.5px;top:1788.2px;width:394.0999999999999px;height:37.799999999999955px;border:1px solid #cfe3c3;box-sizing:border-box;background:#fff;"></div>
<div class="t" style="left:1707.24px;top:1797.69px;font-size:18.8px;line-height:18.8px;font-weight:400;color:#2b3138;transform:scaleX(1.0313);-webkit-text-stroke:0.3px #2b3138;">Flat</div>
<svg style="position:absolute;overflow:visible;left:2068px;top:1804.2px" width="14" height="6.8" viewBox="0 0 14 6.8"><path d="M0 0 L14 0 L7.0 6.8 Z" fill="#979797" stroke="#979797" stroke-width="0.8" stroke-linejoin="round"/></svg>
<div class="t" style="left:1574.35px;top:1853.99px;font-size:16.9px;line-height:16.9px;font-weight:700;color:#2b3138;transform:scaleX(0.9403);">FEE 5 NAME</div>
<div style="position:absolute;left:1700.5px;top:1841.1px;width:394.0999999999999px;height:39.5px;border:1px solid #cfe3c3;box-sizing:border-box;background:#fff;"></div>
</div></body></html>
